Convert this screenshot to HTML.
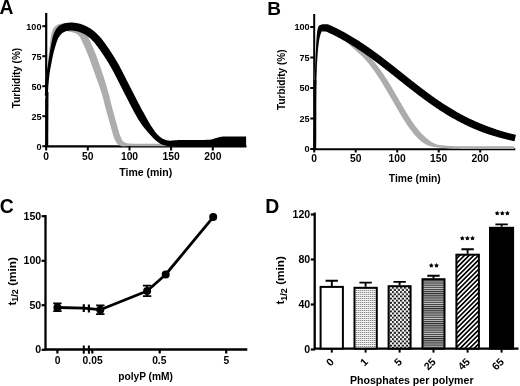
<!DOCTYPE html><html><head><meta charset="utf-8"><style>html,body{margin:0;padding:0;background:#fff;}svg{display:block;filter:blur(0.3px);}text{font-family:"Liberation Sans",sans-serif;font-weight:bold;fill:#000;}</style></head><body>
<svg width="520" height="386" viewBox="0 0 520 386">
<defs>
<pattern id="pDot1" width="2" height="2" patternUnits="userSpaceOnUse"><rect width="2" height="2" fill="#f4f4f4"/><rect x="0" y="0" width="1" height="1" fill="#8c8c8c"/><rect x="1" y="0" width="1" height="1" fill="#d0d0d0"/></pattern>
<pattern id="pDot5" width="4.04" height="4.28" patternUnits="userSpaceOnUse"><rect width="4.04" height="4.28" fill="#fff"/><circle cx="1" cy="1.07" r="1.08" fill="#000"/><circle cx="3.02" cy="3.21" r="1.08" fill="#000"/></pattern>
<pattern id="pH" width="4" height="2.14" patternUnits="userSpaceOnUse"><rect width="4" height="2.14" fill="#2a2a2a"/><rect y="1.07" width="4" height="1.07" fill="#c4c4c4"/></pattern>
<pattern id="pD" width="3.3" height="3.3" patternUnits="userSpaceOnUse" patternTransform="rotate(45)"><rect width="3.3" height="3.3" fill="#fff"/><rect width="1.65" height="3.3" fill="#000"/></pattern>
</defs>
<text x="-0.6" y="13.8" font-size="19.3">A</text>
<text x="267.2" y="14.9" font-size="19">B</text>
<text x="-0.2" y="212.6" font-size="19.4">C</text>
<text x="265.2" y="212.5" font-size="19.4">D</text>
<path d="M46.2,13 V147.5 M45.2,146.4 H246.5" stroke="#000" stroke-width="2.2" fill="none"/>
<path d="M47.32,98.24 L47.41,96.30 L47.49,94.39 L47.57,92.53 L47.66,90.74 L47.74,89.03 L47.82,87.41 L47.91,85.90 L47.99,84.51 L48.07,83.25 L48.16,82.05 L48.24,80.91 L48.32,79.82 L48.41,78.78 L48.49,77.78 L48.58,76.81 L48.66,75.88 L48.75,74.98 L48.84,74.10 L48.92,73.24 L49.01,72.40 L49.10,71.57 L49.18,70.74 L49.27,69.92 L49.36,69.09 L49.45,68.28 L49.54,67.47 L49.63,66.67 L49.72,65.89 L49.81,65.10 L49.90,64.33 L49.99,63.57 L50.08,62.81 L50.17,62.07 L50.26,61.33 L50.35,60.60 L50.45,59.88 L50.54,59.17 L50.63,58.46 L50.72,57.77 L50.82,57.08 L50.91,56.40 L51.00,55.73 L51.10,55.07 L51.19,54.41 L51.28,53.77 L51.38,53.13 L51.47,52.50 L51.57,51.88 L51.66,51.27 L51.76,50.66 L51.85,50.07 L51.95,49.48 L52.04,48.89 L52.14,48.30 L52.24,47.70 L52.34,47.11 L52.43,46.50 L52.53,45.90 L52.63,45.30 L52.72,44.70 L52.82,44.10 L52.92,43.51 L53.02,42.92 L53.12,42.34 L53.21,41.77 L53.31,41.21 L53.41,40.66 L53.51,40.12 L53.61,39.59 L53.71,39.08 L53.80,38.58 L53.90,38.11 L54.00,37.65 L54.10,37.21 L54.19,36.80 L54.29,36.40 L54.39,36.04 L54.48,35.70 L54.57,35.40 L54.66,35.13 L54.75,34.89 L54.83,34.69 L54.92,34.51 L55.02,34.31 L55.11,34.10 L55.21,33.91 L55.30,33.71 L55.40,33.53 L55.50,33.34 L55.59,33.17 L55.68,32.99 L55.78,32.83 L55.87,32.67 L55.96,32.51 L56.06,32.36 L56.15,32.21 L56.24,32.07 L56.33,31.94 L56.42,31.81 L56.51,31.69 L56.59,31.57 L56.68,31.46 L56.76,31.36 L56.84,31.27 L56.92,31.18 L57.00,31.10 L57.08,31.02 L57.15,30.96 L57.22,30.90 L57.28,30.84 L57.34,30.80 L57.40,30.76 L57.45,30.74 L57.50,30.72 L57.54,30.71 L57.57,30.70 L57.60,30.71 L57.61,30.72 L57.62,30.74 L57.62,30.76 L57.65,30.77 L57.73,30.75 L57.81,30.72 L57.90,30.70 L57.98,30.68 L58.06,30.66 L58.14,30.64 L58.22,30.61 L58.30,30.60 L58.37,30.58 L58.45,30.56 L58.53,30.54 L58.61,30.53 L58.68,30.51 L58.76,30.50 L58.83,30.48 L58.91,30.47 L58.98,30.46 L59.05,30.44 L59.12,30.43 L59.20,30.42 L59.27,30.41 L59.34,30.40 L59.40,30.40 L59.47,30.39 L59.54,30.38 L59.60,30.38 L59.67,30.37 L59.68,30.39 L60.04,30.36 L60.32,30.37 L60.58,30.39 L60.82,30.43 L61.02,30.48 L61.27,30.53 L61.60,30.59 L61.98,30.65 L62.36,30.71 L62.73,30.76 L63.12,30.81 L63.50,30.85 L63.89,30.89 L64.28,30.92 L64.68,30.95 L65.08,30.99 L65.48,31.02 L65.89,31.06 L66.30,31.10 L66.69,31.13 L67.03,31.17 L67.37,31.22 L67.72,31.27 L68.07,31.33 L68.43,31.40 L68.80,31.47 L69.17,31.55 L69.55,31.64 L69.94,31.73 L70.33,31.83 L70.73,31.93 L71.14,32.03 L71.55,32.14 L71.96,32.24 L72.37,32.35 L72.76,32.45 L73.15,32.56 L73.53,32.66 L73.89,32.77 L74.25,32.88 L74.60,33.00 L74.94,33.12 L75.28,33.24 L75.60,33.38 L75.92,33.52 L76.21,33.65 L76.46,33.78 L76.71,33.93 L76.97,34.11 L77.26,34.32 L77.56,34.57 L77.87,34.84 L78.19,35.15 L78.53,35.49 L78.87,35.85 L79.22,36.25 L79.53,36.61 L79.79,36.96 L80.08,37.43 L80.42,38.04 L80.79,38.75 L81.17,39.54 L81.57,40.39 L81.97,41.29 L82.39,42.22 L82.82,43.16 L83.24,44.07 L83.66,44.96 L84.06,45.84 L84.47,46.74 L84.88,47.66 L85.29,48.59 L85.69,49.54 L86.10,50.50 L86.51,51.48 L86.92,52.46 L87.34,53.47 L87.75,54.48 L88.15,55.50 L88.56,56.53 L88.97,57.59 L89.38,58.68 L89.79,59.78 L90.20,60.90 L90.62,62.04 L91.03,63.18 L91.45,64.33 L91.86,65.48 L92.27,66.63 L92.68,67.80 L93.10,68.98 L93.52,70.16 L93.94,71.36 L94.37,72.55 L94.80,73.74 L95.23,74.94 L95.67,76.13 L96.10,77.30 L96.54,78.47 L96.97,79.64 L97.41,80.81 L97.84,81.99 L98.27,83.20 L98.71,84.43 L99.14,85.68 L99.58,86.95 L100.02,88.23 L100.45,89.54 L100.88,90.86 L101.31,92.22 L101.74,93.61 L102.17,95.04 L102.59,96.54 L103.02,98.12 L103.44,99.77 L103.87,101.46 L104.30,103.17 L104.72,104.88 L105.15,106.56 L105.57,108.19 L106.00,109.76 L106.42,111.29 L106.84,112.81 L107.25,114.30 L107.67,115.78 L108.09,117.26 L108.50,118.73 L108.92,120.22 L109.33,121.72 L109.74,123.25 L110.16,124.80 L110.58,126.34 L111.00,127.86 L111.43,129.35 L111.85,130.79 L112.26,132.18 L112.68,133.59 L113.10,135.02 L113.54,136.41 L113.98,137.75 L114.46,139.00 L114.96,140.09 L115.45,141.02 L115.96,141.88 L116.49,142.70 L117.08,143.48 L117.74,144.21 L118.46,144.81 L119.10,145.22 L119.70,145.54 L120.31,145.82 L120.95,146.05 L121.60,146.22 L122.21,146.32 L122.73,146.36 L123.20,146.38 L123.68,146.39 L124.16,146.39 L124.63,146.39 L125.11,146.37 L125.58,146.36 L126.05,146.33 L126.52,146.30 L126.97,146.26 L127.40,146.22 L127.82,146.19 L128.24,146.16 L128.66,146.15 L129.08,146.15 L129.50,146.16 L129.92,146.17 L130.33,146.19 L130.75,146.20 L131.17,146.21 L131.59,146.22 L132.01,146.23 L132.43,146.24 L132.85,146.25 L133.27,146.26 L133.68,146.27 L134.10,146.27 L134.52,146.28 L134.94,146.28 L135.36,146.29 L135.78,146.29 L136.20,146.29 L136.62,146.30 L137.03,146.30 L137.45,146.30 L137.87,146.30 L138.29,146.30 L138.70,146.30 L139.12,146.30 L139.54,146.30 L139.95,146.30 L140.37,146.30 L140.79,146.30 L141.20,146.30 L141.62,146.30 L142.04,146.30 L142.45,146.30 L142.87,146.30 L143.29,146.30 L143.70,146.30 L144.12,146.30 L144.54,146.30 L144.95,146.30 L145.37,146.30 L145.79,146.30 L146.20,146.30 L146.62,146.30 L147.03,146.30 L147.45,146.30 L147.87,146.30 L148.28,146.30 L148.70,146.30 L149.12,146.30 L149.53,146.30 L149.95,146.30 L150.37,146.30 L150.78,146.30 L151.20,146.30 L151.62,146.30 L152.03,146.30 L152.45,146.30 L152.87,146.30 L153.28,146.30 L153.70,146.30 L154.12,146.30 L154.53,146.30 L154.95,146.30 L155.36,146.30 L155.78,146.30 L156.20,146.30 L156.61,146.30 L157.03,146.30 L157.45,146.30 L157.86,146.30 L158.28,146.30 L158.70,146.30 L159.11,146.30 L159.53,146.30 L159.95,146.30 L160.36,146.30 L160.78,146.30 L161.20,146.30 L161.61,146.30 L162.03,146.30 L162.45,146.30 L162.86,146.30 L163.28,146.30 L163.69,146.30 L164.11,146.30 L164.53,146.30 L164.94,146.30 L165.36,146.30 L165.78,146.30 L166.19,146.30 L166.61,146.30 L167.03,146.30 L167.44,146.30 L167.86,146.30 L168.28,146.30 L168.69,146.30 L169.11,146.30 L169.53,146.30 L169.94,146.30 L170.36,146.30 L170.78,146.30 L171.19,146.30 L171.61,146.30 L172.02,146.30 L172.44,146.30 L172.86,146.30 L173.27,146.30 L173.69,146.30 L174.11,146.30 L174.52,146.30 L174.94,146.30 L175.36,146.30 L175.77,146.30 L176.19,146.30 L176.61,146.30 L177.02,146.30 L177.44,146.30 L177.86,146.30 L178.27,146.30 L178.69,146.30 L179.11,146.30 L179.52,146.30 L179.94,146.30 L180.35,146.30 L180.77,146.30 L181.19,146.30 L181.60,146.30 L182.02,146.30 L182.44,146.30 L182.85,146.30 L183.27,146.30 L183.69,146.30 L184.10,146.30 L184.52,146.30 L184.94,146.30 L185.35,146.30 L185.77,146.30 L186.19,146.30 L186.60,146.30 L187.02,146.30 L187.44,146.30 L187.81,146.30 L187.81,143.70 L187.44,143.70 L187.02,143.70 L186.60,143.70 L186.19,143.70 L185.77,143.70 L185.35,143.70 L184.94,143.70 L184.52,143.70 L184.10,143.70 L183.69,143.70 L183.27,143.70 L182.85,143.70 L182.44,143.70 L182.02,143.70 L181.60,143.70 L181.19,143.70 L180.77,143.70 L180.35,143.70 L179.94,143.70 L179.52,143.70 L179.11,143.70 L178.69,143.70 L178.27,143.70 L177.86,143.70 L177.44,143.70 L177.02,143.70 L176.61,143.70 L176.19,143.70 L175.77,143.70 L175.36,143.70 L174.94,143.70 L174.52,143.70 L174.11,143.70 L173.69,143.70 L173.27,143.70 L172.86,143.70 L172.44,143.70 L172.02,143.70 L171.61,143.70 L171.19,143.70 L170.78,143.70 L170.36,143.70 L169.94,143.70 L169.53,143.70 L169.11,143.70 L168.69,143.70 L168.28,143.70 L167.86,143.70 L167.44,143.70 L167.03,143.70 L166.61,143.70 L166.19,143.70 L165.78,143.70 L165.36,143.70 L164.94,143.70 L164.53,143.70 L164.11,143.70 L163.69,143.70 L163.28,143.70 L162.86,143.70 L162.45,143.70 L162.03,143.70 L161.61,143.70 L161.20,143.70 L160.78,143.70 L160.36,143.70 L159.95,143.70 L159.53,143.70 L159.11,143.70 L158.70,143.70 L158.28,143.70 L157.86,143.70 L157.45,143.70 L157.03,143.70 L156.61,143.70 L156.20,143.70 L155.78,143.70 L155.36,143.70 L154.95,143.70 L154.53,143.70 L154.12,143.70 L153.70,143.70 L153.28,143.70 L152.87,143.70 L152.45,143.70 L152.03,143.70 L151.62,143.70 L151.20,143.70 L150.78,143.70 L150.37,143.70 L149.95,143.70 L149.53,143.70 L149.12,143.70 L148.70,143.70 L148.28,143.70 L147.87,143.70 L147.45,143.70 L147.03,143.70 L146.62,143.70 L146.20,143.70 L145.79,143.70 L145.37,143.70 L144.95,143.70 L144.54,143.70 L144.12,143.70 L143.70,143.70 L143.29,143.70 L142.87,143.70 L142.45,143.70 L142.04,143.70 L141.62,143.70 L141.20,143.70 L140.79,143.70 L140.37,143.70 L139.95,143.70 L139.54,143.70 L139.12,143.70 L138.70,143.70 L138.29,143.70 L137.87,143.70 L137.46,143.70 L137.04,143.70 L136.63,143.70 L136.21,143.69 L135.80,143.69 L135.39,143.69 L134.97,143.68 L134.56,143.68 L134.14,143.67 L133.73,143.67 L133.31,143.66 L132.90,143.65 L132.49,143.64 L132.07,143.63 L131.66,143.62 L131.24,143.61 L130.83,143.60 L130.41,143.59 L130.00,143.57 L129.59,143.56 L129.17,143.54 L128.76,143.51 L128.34,143.46 L127.93,143.41 L127.52,143.34 L127.12,143.27 L126.74,143.18 L126.37,143.08 L126.01,142.96 L125.65,142.82 L125.29,142.67 L124.93,142.51 L124.57,142.34 L124.22,142.16 L123.86,141.97 L123.55,141.79 L123.32,141.61 L123.14,141.43 L122.94,141.22 L122.73,140.99 L122.49,140.71 L122.30,140.46 L122.18,140.25 L122.01,139.93 L121.77,139.44 L121.47,138.83 L121.14,138.11 L120.80,137.36 L120.47,136.57 L120.11,135.59 L119.72,134.42 L119.32,133.13 L118.91,131.75 L118.50,130.33 L118.08,128.94 L117.67,127.55 L117.26,126.11 L116.85,124.62 L116.43,123.09 L116.02,121.56 L115.60,120.01 L115.18,118.48 L114.76,116.98 L114.34,115.49 L113.93,114.02 L113.51,112.54 L113.10,111.06 L112.68,109.57 L112.27,108.06 L111.86,106.53 L111.45,104.95 L111.04,103.31 L110.64,101.62 L110.23,99.91 L109.82,98.19 L109.42,96.50 L109.01,94.84 L108.60,93.26 L108.19,91.75 L107.79,90.30 L107.39,88.88 L106.99,87.50 L106.59,86.15 L106.19,84.83 L105.80,83.52 L105.40,82.23 L105.00,80.94 L104.60,79.68 L104.20,78.45 L103.80,77.24 L103.40,76.05 L103.00,74.86 L102.61,73.68 L102.21,72.50 L101.81,71.30 L101.41,70.10 L101.00,68.90 L100.59,67.70 L100.18,66.50 L99.76,65.31 L99.34,64.12 L98.92,62.94 L98.50,61.78 L98.08,60.63 L97.66,59.47 L97.24,58.32 L96.82,57.18 L96.40,56.05 L95.98,54.92 L95.55,53.82 L95.13,52.73 L94.70,51.67 L94.28,50.63 L93.86,49.60 L93.43,48.58 L93.01,47.58 L92.59,46.58 L92.16,45.60 L91.74,44.63 L91.31,43.68 L90.89,42.73 L90.46,41.81 L90.04,40.90 L89.63,40.03 L89.23,39.13 L88.81,38.21 L88.38,37.27 L87.95,36.33 L87.50,35.40 L87.03,34.49 L86.54,33.61 L86.00,32.75 L85.43,31.97 L84.90,31.34 L84.42,30.80 L83.93,30.28 L83.43,29.78 L82.92,29.30 L82.40,28.84 L81.87,28.41 L81.32,28.00 L80.75,27.62 L80.16,27.26 L79.58,26.95 L79.03,26.69 L78.52,26.47 L78.02,26.26 L77.52,26.07 L77.03,25.90 L76.54,25.74 L76.07,25.59 L75.60,25.45 L75.14,25.33 L74.70,25.20 L74.26,25.09 L73.83,24.98 L73.41,24.87 L72.99,24.76 L72.57,24.65 L72.13,24.55 L71.69,24.44 L71.25,24.33 L70.79,24.23 L70.33,24.13 L69.87,24.04 L69.39,23.95 L68.91,23.87 L68.43,23.79 L67.93,23.73 L67.45,23.67 L67.00,23.63 L66.58,23.59 L66.15,23.55 L65.72,23.52 L65.29,23.48 L64.85,23.44 L64.41,23.42 L63.97,23.40 L63.52,23.39 L63.07,23.40 L62.61,23.42 L62.16,23.45 L61.70,23.49 L61.20,23.55 L60.61,23.63 L59.99,23.75 L59.39,23.92 L58.81,24.12 L58.27,24.35 L57.79,24.59 L57.64,24.67 L57.54,24.72 L57.43,24.78 L57.34,24.84 L57.24,24.89 L57.14,24.95 L57.04,25.01 L56.95,25.07 L56.85,25.13 L56.75,25.19 L56.66,25.25 L56.57,25.32 L56.47,25.38 L56.38,25.44 L56.29,25.51 L56.20,25.57 L56.11,25.64 L56.02,25.70 L55.93,25.77 L55.85,25.84 L55.76,25.90 L55.67,25.97 L55.58,26.04 L55.50,26.11 L55.41,26.17 L55.33,26.24 L55.24,26.31 L55.15,26.39 L55.02,26.49 L54.86,26.61 L54.70,26.75 L54.55,26.89 L54.40,27.03 L54.27,27.18 L54.14,27.33 L54.02,27.48 L53.91,27.63 L53.80,27.79 L53.69,27.95 L53.59,28.11 L53.50,28.27 L53.40,28.43 L53.31,28.60 L53.22,28.77 L53.13,28.94 L53.05,29.12 L52.97,29.29 L52.88,29.47 L52.80,29.66 L52.73,29.84 L52.65,30.03 L52.57,30.23 L52.49,30.42 L52.42,30.62 L52.35,30.82 L52.27,31.03 L52.20,31.24 L52.13,31.45 L52.05,31.66 L51.98,31.88 L51.91,32.10 L51.84,32.33 L51.77,32.56 L51.70,32.79 L51.63,33.02 L51.56,33.27 L51.48,33.54 L51.39,33.86 L51.31,34.19 L51.24,34.55 L51.16,34.92 L51.09,35.31 L51.02,35.72 L50.95,36.16 L50.88,36.61 L50.81,37.07 L50.74,37.56 L50.68,38.06 L50.61,38.58 L50.54,39.11 L50.47,39.65 L50.40,40.20 L50.33,40.77 L50.26,41.34 L50.20,41.92 L50.13,42.51 L50.06,43.11 L49.99,43.71 L49.92,44.31 L49.85,44.92 L49.78,45.52 L49.71,46.13 L49.64,46.73 L49.57,47.33 L49.50,47.93 L49.43,48.52 L49.36,49.11 L49.29,49.71 L49.22,50.31 L49.15,50.93 L49.08,51.55 L49.01,52.18 L48.94,52.81 L48.86,53.46 L48.79,54.11 L48.72,54.77 L48.65,55.44 L48.57,56.11 L48.50,56.80 L48.42,57.49 L48.35,58.19 L48.28,58.90 L48.20,59.62 L48.13,60.35 L48.05,61.08 L47.98,61.82 L47.90,62.57 L47.83,63.33 L47.75,64.10 L47.67,64.88 L47.60,65.66 L47.52,66.45 L47.44,67.25 L47.36,68.06 L47.29,68.88 L47.21,69.71 L47.13,70.53 L47.05,71.36 L46.97,72.20 L46.89,73.04 L46.81,73.91 L46.73,74.79 L46.65,75.70 L46.57,76.64 L46.49,77.61 L46.41,78.62 L46.33,79.67 L46.24,80.76 L46.16,81.91 L46.08,83.11 L45.99,84.38 L45.91,85.78 L45.83,87.30 L45.74,88.93 L45.66,90.64 L45.58,92.44 L45.49,94.30 L45.41,96.21 L45.33,98.16 Z" fill="#adadad"/>
<path d="M47.82,95.88 L47.91,94.22 L47.99,92.62 L48.07,91.08 L48.16,89.59 L48.24,88.18 L48.32,86.85 L48.40,85.61 L48.49,84.45 L48.57,83.40 L48.65,82.40 L48.74,81.45 L48.82,80.54 L48.90,79.68 L48.98,78.86 L49.07,78.08 L49.15,77.33 L49.23,76.61 L49.31,75.92 L49.40,75.25 L49.48,74.61 L49.56,73.98 L49.65,73.37 L49.73,72.78 L49.82,72.21 L49.90,71.65 L49.99,71.10 L50.07,70.57 L50.16,70.05 L50.25,69.53 L50.33,69.03 L50.42,68.53 L50.51,68.03 L50.60,67.55 L50.69,67.06 L50.78,66.57 L50.87,66.09 L50.96,65.60 L51.05,65.11 L51.14,64.62 L51.23,64.13 L51.33,63.64 L51.42,63.15 L51.51,62.66 L51.60,62.18 L51.70,61.69 L51.79,61.21 L51.88,60.73 L51.98,60.25 L52.07,59.77 L52.17,59.30 L52.26,58.83 L52.36,58.36 L52.45,57.90 L52.55,57.44 L52.64,56.98 L52.74,56.53 L52.84,56.08 L52.93,55.63 L53.03,55.19 L53.13,54.76 L53.23,54.33 L53.32,53.90 L53.42,53.48 L53.52,53.07 L53.62,52.66 L53.71,52.26 L53.81,51.86 L53.91,51.48 L54.01,51.09 L54.11,50.72 L54.21,50.35 L54.30,49.99 L54.40,49.64 L54.50,49.29 L54.60,48.94 L54.70,48.59 L54.80,48.23 L54.90,47.88 L55.01,47.53 L55.11,47.19 L55.21,46.84 L55.31,46.49 L55.41,46.15 L55.51,45.81 L55.61,45.47 L55.72,45.13 L55.82,44.80 L55.92,44.47 L56.02,44.14 L56.12,43.82 L56.22,43.50 L56.32,43.18 L56.42,42.87 L56.53,42.56 L56.63,42.26 L56.73,41.96 L56.83,41.67 L56.93,41.38 L57.03,41.09 L57.13,40.82 L57.23,40.55 L57.33,40.28 L57.43,40.02 L57.53,39.77 L57.62,39.53 L57.72,39.29 L57.82,39.06 L57.91,38.84 L58.01,38.63 L58.10,38.43 L58.20,38.24 L58.29,38.05 L58.38,37.88 L58.47,37.72 L58.55,37.57 L58.64,37.43 L58.72,37.30 L58.80,37.19 L58.88,37.07 L58.97,36.93 L59.07,36.79 L59.17,36.65 L59.26,36.52 L59.35,36.39 L59.45,36.26 L59.54,36.13 L59.64,36.00 L59.73,35.88 L59.82,35.75 L59.91,35.63 L60.00,35.52 L60.10,35.40 L60.19,35.29 L60.28,35.17 L60.37,35.06 L60.46,34.96 L60.54,34.85 L60.63,34.75 L60.72,34.65 L60.81,34.55 L60.89,34.45 L60.98,34.36 L61.06,34.27 L61.15,34.18 L61.23,34.09 L61.31,34.01 L61.39,33.92 L61.47,33.84 L61.52,33.81 L61.94,33.41 L62.30,33.11 L62.62,32.87 L62.91,32.69 L63.15,32.55 L63.41,32.43 L63.73,32.27 L64.09,32.09 L64.42,31.91 L64.75,31.74 L65.05,31.59 L65.35,31.45 L65.63,31.33 L65.90,31.23 L66.16,31.15 L66.40,31.08 L66.62,31.03 L66.89,30.98 L67.25,30.92 L67.64,30.87 L68.02,30.81 L68.40,30.76 L68.78,30.72 L69.14,30.68 L69.50,30.64 L69.86,30.61 L70.21,30.59 L70.55,30.57 L70.89,30.56 L71.22,30.56 L71.55,30.56 L71.88,30.58 L72.22,30.60 L72.56,30.62 L72.91,30.65 L73.27,30.69 L73.63,30.74 L74.00,30.79 L74.37,30.85 L74.75,30.91 L75.14,30.97 L75.53,31.04 L75.93,31.11 L76.34,31.19 L76.75,31.26 L77.13,31.33 L77.45,31.40 L77.77,31.47 L78.09,31.56 L78.42,31.65 L78.75,31.76 L79.10,31.87 L79.45,32.00 L79.81,32.13 L80.17,32.27 L80.54,32.42 L80.92,32.58 L81.30,32.74 L81.69,32.91 L82.09,33.09 L82.49,33.27 L82.87,33.45 L83.23,33.61 L83.58,33.79 L83.93,33.97 L84.28,34.16 L84.64,34.37 L85.00,34.58 L85.37,34.80 L85.74,35.04 L86.11,35.28 L86.48,35.53 L86.86,35.79 L87.24,36.05 L87.62,36.33 L88.00,36.61 L88.39,36.90 L88.77,37.19 L89.12,37.47 L89.48,37.77 L89.84,38.08 L90.21,38.40 L90.58,38.74 L90.95,39.10 L91.33,39.47 L91.71,39.85 L92.10,40.24 L92.49,40.65 L92.88,41.06 L93.28,41.49 L93.67,41.92 L94.07,42.37 L94.47,42.82 L94.87,43.27 L95.25,43.71 L95.62,44.17 L96.01,44.64 L96.39,45.14 L96.79,45.65 L97.18,46.17 L97.58,46.71 L97.98,47.26 L98.38,47.82 L98.79,48.39 L99.20,48.97 L99.61,49.56 L100.02,50.15 L100.43,50.75 L100.85,51.35 L101.27,51.94 L101.68,52.53 L102.09,53.13 L102.49,53.73 L102.90,54.33 L103.31,54.93 L103.72,55.55 L104.13,56.16 L104.54,56.79 L104.94,57.41 L105.35,58.05 L105.76,58.68 L106.17,59.33 L106.58,59.97 L106.99,60.63 L107.39,61.29 L107.80,61.95 L108.21,62.62 L108.62,63.30 L109.02,63.98 L109.43,64.68 L109.84,65.38 L110.25,66.08 L110.66,66.80 L111.07,67.52 L111.47,68.25 L111.89,68.98 L112.30,69.72 L112.71,70.47 L113.12,71.22 L113.53,71.98 L113.93,72.73 L114.34,73.50 L114.75,74.28 L115.16,75.07 L115.57,75.88 L115.98,76.69 L116.39,77.50 L116.81,78.33 L117.22,79.16 L117.64,79.99 L118.06,80.82 L118.47,81.65 L118.90,82.48 L119.32,83.30 L119.73,84.12 L120.15,84.93 L120.57,85.75 L120.98,86.56 L121.40,87.37 L121.82,88.19 L122.23,89.00 L122.65,89.82 L123.06,90.63 L123.48,91.45 L123.90,92.26 L124.31,93.07 L124.73,93.89 L125.15,94.70 L125.56,95.51 L125.98,96.33 L126.39,97.15 L126.81,97.97 L127.22,98.79 L127.64,99.61 L128.06,100.43 L128.48,101.25 L128.90,102.08 L129.31,102.90 L129.74,103.71 L130.16,104.53 L130.58,105.34 L131.00,106.14 L131.42,106.93 L131.83,107.73 L132.25,108.52 L132.67,109.31 L133.09,110.11 L133.51,110.90 L133.93,111.68 L134.35,112.47 L134.77,113.25 L135.20,114.02 L135.62,114.79 L136.05,115.56 L136.48,116.31 L136.91,117.06 L137.34,117.78 L137.77,118.50 L138.21,119.22 L138.65,119.93 L139.10,120.64 L139.55,121.34 L140.00,122.04 L140.46,122.73 L140.92,123.41 L141.38,124.08 L141.84,124.74 L142.31,125.39 L142.79,126.03 L143.26,126.66 L143.74,127.27 L144.21,127.87 L144.68,128.45 L145.15,129.01 L145.62,129.56 L146.09,130.10 L146.55,130.63 L147.01,131.16 L147.46,131.67 L147.91,132.19 L148.36,132.70 L148.80,133.21 L149.26,133.74 L149.71,134.27 L150.17,134.80 L150.63,135.33 L151.09,135.85 L151.56,136.36 L152.03,136.87 L152.50,137.35 L152.96,137.80 L153.40,138.25 L153.85,138.68 L154.30,139.11 L154.74,139.53 L155.20,139.95 L155.65,140.35 L156.11,140.74 L156.58,141.11 L157.03,141.46 L157.47,141.79 L157.90,142.11 L158.34,142.43 L158.80,142.75 L159.27,143.07 L159.75,143.38 L160.25,143.68 L160.76,143.96 L161.30,144.22 L161.83,144.45 L162.31,144.63 L162.77,144.80 L163.24,144.96 L163.71,145.11 L164.18,145.25 L164.65,145.39 L165.13,145.51 L165.61,145.62 L166.10,145.72 L166.56,145.80 L166.99,145.87 L167.42,145.95 L167.85,146.03 L168.29,146.11 L168.75,146.20 L169.21,146.27 L169.69,146.35 L170.18,146.41 L170.69,146.47 L171.17,146.51 L171.61,146.54 L172.02,146.58 L172.44,146.61 L172.86,146.65 L173.27,146.69 L173.69,146.73 L174.11,146.76 L174.52,146.80 L174.94,146.83 L175.36,146.87 L175.77,146.90 L176.19,146.93 L176.61,146.96 L177.02,146.98 L177.44,147.01 L177.86,147.03 L178.27,147.04 L178.69,147.05 L179.11,147.06 L179.52,147.06 L179.94,147.06 L180.36,147.06 L180.77,147.06 L181.19,147.06 L181.61,147.06 L182.02,147.06 L182.44,147.06 L182.86,147.06 L183.28,147.06 L183.69,147.06 L184.11,147.06 L184.53,147.05 L184.94,147.05 L185.36,147.05 L185.78,147.05 L186.20,147.05 L186.61,147.05 L187.03,147.05 L187.45,147.05 L187.87,147.04 L188.28,147.04 L188.70,147.04 L189.12,147.04 L189.53,147.04 L189.95,147.03 L190.37,147.03 L190.79,147.03 L191.20,147.03 L191.62,147.02 L192.04,147.02 L192.46,147.02 L192.87,147.02 L193.29,147.01 L193.71,147.01 L194.13,147.01 L194.54,147.00 L194.96,147.00 L195.38,147.00 L195.80,146.99 L196.21,146.99 L196.63,146.99 L197.05,146.98 L197.47,146.98 L197.88,146.97 L198.30,146.97 L198.72,146.97 L199.14,146.96 L199.55,146.96 L199.97,146.95 L200.39,146.95 L200.81,146.94 L201.22,146.94 L201.64,146.93 L202.06,146.93 L202.48,146.92 L202.89,146.91 L203.31,146.91 L203.73,146.90 L204.15,146.90 L204.56,146.89 L204.98,146.88 L205.40,146.88 L205.82,146.87 L206.24,146.86 L206.65,146.86 L207.07,146.85 L207.49,146.84 L207.91,146.83 L208.32,146.83 L208.77,146.82 L209.27,146.80 L209.77,146.77 L210.27,146.72 L210.76,146.67 L211.23,146.61 L211.70,146.54 L212.16,146.48 L212.62,146.42 L213.06,146.36 L213.50,146.32 L213.93,146.28 L214.36,146.25 L214.78,146.23 L215.19,146.22 L215.58,146.22 L215.97,146.23 L216.35,146.25 L216.71,146.27 L217.07,146.31 L217.43,146.35 L217.85,146.39 L218.28,146.43 L218.70,146.47 L219.13,146.50 L219.55,146.53 L219.96,146.56 L220.37,146.58 L220.78,146.60 L221.18,146.61 L221.58,146.62 L221.97,146.62 L222.36,146.62 L222.75,146.61 L223.13,146.59 L223.50,146.57 L223.88,146.55 L224.25,146.54 L224.61,146.53 L224.97,146.52 L225.35,146.52 L225.75,146.52 L226.17,146.52 L226.59,146.52 L227.00,146.52 L227.42,146.52 L227.84,146.52 L228.25,146.52 L228.67,146.52 L229.09,146.52 L229.50,146.52 L229.92,146.52 L230.33,146.52 L230.75,146.52 L231.17,146.52 L231.58,146.52 L232.00,146.52 L232.42,146.52 L232.83,146.52 L233.25,146.52 L233.67,146.52 L234.08,146.52 L234.50,146.52 L234.92,146.52 L235.33,146.52 L235.75,146.52 L236.17,146.52 L236.58,146.52 L237.00,146.52 L237.42,146.52 L237.83,146.52 L238.25,146.52 L238.66,146.52 L239.08,146.52 L239.50,146.52 L239.91,146.52 L240.33,146.52 L240.75,146.52 L241.16,146.52 L241.58,146.52 L242.00,146.52 L242.41,146.52 L242.83,146.52 L243.25,146.52 L243.66,146.52 L244.08,146.52 L244.50,146.52 L244.91,146.52 L245.33,146.52 L245.75,146.52 L246.12,146.52 L246.12,136.52 L245.75,136.52 L245.33,136.52 L244.91,136.52 L244.50,136.52 L244.08,136.52 L243.66,136.52 L243.25,136.52 L242.83,136.52 L242.41,136.52 L242.00,136.52 L241.58,136.52 L241.16,136.52 L240.75,136.52 L240.33,136.52 L239.91,136.52 L239.50,136.52 L239.08,136.52 L238.66,136.52 L238.25,136.52 L237.83,136.52 L237.42,136.52 L237.00,136.52 L236.58,136.52 L236.17,136.52 L235.75,136.52 L235.33,136.52 L234.92,136.52 L234.50,136.52 L234.08,136.52 L233.67,136.52 L233.25,136.52 L232.83,136.52 L232.42,136.52 L232.00,136.52 L231.58,136.52 L231.17,136.52 L230.75,136.52 L230.33,136.52 L229.92,136.52 L229.50,136.52 L229.09,136.52 L228.67,136.52 L228.25,136.52 L227.84,136.52 L227.42,136.52 L227.00,136.52 L226.59,136.52 L226.17,136.52 L225.75,136.52 L225.32,136.52 L224.87,136.52 L224.40,136.53 L223.93,136.54 L223.46,136.56 L223.00,136.58 L222.55,136.61 L222.09,136.64 L221.65,136.68 L221.20,136.74 L220.76,136.81 L220.33,136.89 L219.90,136.98 L219.47,137.08 L219.05,137.18 L218.63,137.29 L218.22,137.40 L217.81,137.52 L217.40,137.64 L217.00,137.76 L216.58,137.88 L216.11,138.01 L215.63,138.15 L215.17,138.29 L214.71,138.44 L214.26,138.59 L213.83,138.74 L213.41,138.88 L212.99,139.02 L212.58,139.15 L212.18,139.27 L211.79,139.38 L211.40,139.47 L211.02,139.56 L210.65,139.62 L210.28,139.67 L209.93,139.72 L209.58,139.76 L209.25,139.79 L208.92,139.81 L208.58,139.82 L208.20,139.83 L207.78,139.84 L207.37,139.84 L206.95,139.85 L206.53,139.86 L206.12,139.86 L205.70,139.87 L205.29,139.88 L204.87,139.88 L204.46,139.89 L204.04,139.90 L203.63,139.90 L203.21,139.91 L202.80,139.91 L202.38,139.92 L201.97,139.93 L201.55,139.93 L201.14,139.94 L200.72,139.94 L200.30,139.95 L199.89,139.95 L199.47,139.96 L199.06,139.96 L198.64,139.97 L198.23,139.97 L197.81,139.97 L197.40,139.98 L196.98,139.98 L196.57,139.99 L196.15,139.99 L195.73,139.99 L195.32,140.00 L194.90,140.00 L194.49,140.00 L194.07,140.01 L193.66,140.01 L193.24,140.01 L192.83,140.02 L192.41,140.02 L191.99,140.02 L191.58,140.03 L191.16,140.03 L190.75,140.03 L190.33,140.03 L189.92,140.03 L189.50,140.04 L189.08,140.04 L188.67,140.04 L188.25,140.04 L187.84,140.04 L187.42,140.05 L187.01,140.05 L186.59,140.05 L186.17,140.05 L185.76,140.05 L185.34,140.05 L184.93,140.05 L184.51,140.05 L184.10,140.06 L183.68,140.06 L183.26,140.06 L182.85,140.06 L182.43,140.06 L182.02,140.06 L181.60,140.06 L181.19,140.06 L180.77,140.06 L180.35,140.06 L179.94,140.06 L179.52,140.06 L179.11,140.06 L178.69,140.07 L178.27,140.08 L177.86,140.09 L177.44,140.11 L177.02,140.14 L176.61,140.16 L176.19,140.19 L175.77,140.22 L175.36,140.25 L174.94,140.29 L174.52,140.32 L174.11,140.36 L173.69,140.39 L173.27,140.43 L172.86,140.47 L172.44,140.51 L172.02,140.54 L171.61,140.58 L171.21,140.61 L170.86,140.64 L170.53,140.66 L170.19,140.66 L169.84,140.65 L169.47,140.63 L169.09,140.59 L168.70,140.55 L168.30,140.50 L167.89,140.44 L167.49,140.38 L167.12,140.31 L166.77,140.24 L166.42,140.16 L166.07,140.07 L165.71,139.97 L165.35,139.86 L164.98,139.74 L164.61,139.62 L164.24,139.48 L163.89,139.35 L163.59,139.22 L163.29,139.07 L162.98,138.90 L162.64,138.70 L162.29,138.48 L161.93,138.23 L161.55,137.96 L161.16,137.68 L160.76,137.38 L160.36,137.08 L159.98,136.79 L159.61,136.49 L159.24,136.18 L158.87,135.85 L158.48,135.50 L158.10,135.14 L157.71,134.76 L157.32,134.36 L156.94,133.95 L156.56,133.54 L156.20,133.12 L155.84,132.68 L155.47,132.21 L155.10,131.71 L154.73,131.19 L154.36,130.66 L153.98,130.11 L153.59,129.55 L153.21,128.98 L152.82,128.40 L152.44,127.84 L152.06,127.27 L151.68,126.71 L151.31,126.15 L150.95,125.58 L150.58,125.01 L150.22,124.44 L149.86,123.86 L149.50,123.27 L149.14,122.67 L148.79,122.05 L148.42,121.42 L148.06,120.78 L147.69,120.12 L147.32,119.45 L146.95,118.77 L146.57,118.09 L146.19,117.39 L145.81,116.68 L145.42,115.97 L145.03,115.26 L144.64,114.54 L144.24,113.81 L143.83,113.09 L143.43,112.37 L143.03,111.65 L142.62,110.92 L142.21,110.18 L141.80,109.43 L141.39,108.67 L140.98,107.90 L140.57,107.13 L140.16,106.36 L139.74,105.57 L139.33,104.79 L138.91,104.00 L138.50,103.21 L138.08,102.42 L137.67,101.63 L137.26,100.84 L136.85,100.05 L136.43,99.24 L136.02,98.44 L135.60,97.62 L135.19,96.81 L134.77,95.99 L134.36,95.17 L133.94,94.35 L133.53,93.53 L133.11,92.70 L132.69,91.88 L132.27,91.06 L131.85,90.25 L131.44,89.43 L131.02,88.62 L130.60,87.80 L130.19,86.99 L129.77,86.17 L129.35,85.36 L128.94,84.55 L128.52,83.73 L128.10,82.92 L127.69,82.10 L127.27,81.29 L126.86,80.47 L126.44,79.66 L126.03,78.85 L125.61,78.04 L125.20,77.22 L124.79,76.39 L124.37,75.56 L123.95,74.73 L123.53,73.90 L123.11,73.07 L122.69,72.24 L122.27,71.42 L121.85,70.60 L121.42,69.78 L120.99,68.97 L120.57,68.18 L120.14,67.40 L119.72,66.62 L119.30,65.86 L118.88,65.09 L118.45,64.34 L118.03,63.59 L117.61,62.84 L117.18,62.10 L116.76,61.36 L116.33,60.63 L115.91,59.91 L115.48,59.19 L115.06,58.49 L114.63,57.78 L114.20,57.09 L113.78,56.40 L113.36,55.72 L112.93,55.05 L112.51,54.38 L112.08,53.72 L111.66,53.06 L111.23,52.41 L110.81,51.76 L110.38,51.12 L109.96,50.48 L109.53,49.85 L109.11,49.22 L108.68,48.60 L108.26,47.99 L107.84,47.38 L107.42,46.78 L107.00,46.18 L106.58,45.58 L106.16,44.97 L105.74,44.37 L105.32,43.77 L104.89,43.17 L104.46,42.57 L104.03,41.98 L103.59,41.39 L103.15,40.80 L102.71,40.23 L102.27,39.66 L101.82,39.10 L101.36,38.56 L100.91,38.03 L100.47,37.53 L100.04,37.04 L99.60,36.56 L99.17,36.08 L98.73,35.60 L98.29,35.14 L97.84,34.67 L97.40,34.22 L96.95,33.77 L96.49,33.33 L96.03,32.89 L95.57,32.47 L95.11,32.05 L94.63,31.65 L94.16,31.25 L93.68,30.88 L93.22,30.53 L92.78,30.19 L92.33,29.86 L91.88,29.54 L91.42,29.22 L90.97,28.90 L90.51,28.60 L90.05,28.30 L89.58,28.00 L89.12,27.72 L88.64,27.44 L88.17,27.17 L87.69,26.91 L87.21,26.66 L86.72,26.42 L86.25,26.19 L85.80,25.99 L85.37,25.79 L84.93,25.60 L84.48,25.40 L84.03,25.21 L83.58,25.02 L83.12,24.83 L82.65,24.65 L82.17,24.47 L81.69,24.30 L81.20,24.14 L80.71,23.99 L80.20,23.84 L79.69,23.71 L79.17,23.59 L78.66,23.48 L78.21,23.40 L77.79,23.32 L77.36,23.24 L76.93,23.16 L76.49,23.09 L76.04,23.01 L75.59,22.94 L75.13,22.87 L74.67,22.81 L74.20,22.75 L73.72,22.70 L73.24,22.65 L72.75,22.61 L72.25,22.59 L71.75,22.57 L71.24,22.56 L70.74,22.56 L70.24,22.58 L69.75,22.60 L69.27,22.63 L68.79,22.67 L68.32,22.72 L67.86,22.77 L67.40,22.83 L66.94,22.89 L66.49,22.95 L66.05,23.01 L65.58,23.09 L65.01,23.19 L64.40,23.33 L63.81,23.50 L63.23,23.69 L62.67,23.90 L62.12,24.13 L61.58,24.38 L61.06,24.65 L60.55,24.93 L60.05,25.23 L59.57,25.55 L59.06,25.91 L58.48,26.37 L57.90,26.92 L57.35,27.51 L56.84,28.13 L56.37,28.79 L55.96,29.44 L55.83,29.63 L55.75,29.77 L55.66,29.92 L55.58,30.07 L55.50,30.21 L55.41,30.36 L55.33,30.51 L55.25,30.67 L55.17,30.82 L55.09,30.98 L55.01,31.13 L54.93,31.29 L54.85,31.45 L54.77,31.61 L54.70,31.77 L54.62,31.94 L54.55,32.10 L54.47,32.27 L54.40,32.43 L54.32,32.60 L54.25,32.77 L54.17,32.94 L54.10,33.12 L54.03,33.29 L53.95,33.47 L53.88,33.64 L53.81,33.82 L53.74,34.00 L53.67,34.18 L53.59,34.37 L53.51,34.58 L53.42,34.81 L53.34,35.04 L53.26,35.28 L53.18,35.52 L53.10,35.77 L53.02,36.02 L52.95,36.28 L52.87,36.54 L52.80,36.80 L52.73,37.08 L52.66,37.35 L52.59,37.63 L52.52,37.91 L52.45,38.20 L52.38,38.50 L52.31,38.79 L52.25,39.10 L52.18,39.40 L52.11,39.71 L52.05,40.03 L51.98,40.34 L51.92,40.67 L51.85,40.99 L51.78,41.32 L51.72,41.65 L51.65,41.99 L51.59,42.32 L51.52,42.67 L51.46,43.01 L51.39,43.35 L51.33,43.70 L51.26,44.05 L51.20,44.40 L51.13,44.76 L51.07,45.11 L51.00,45.47 L50.94,45.83 L50.87,46.19 L50.81,46.55 L50.74,46.91 L50.67,47.27 L50.61,47.63 L50.54,47.99 L50.48,48.35 L50.41,48.72 L50.34,49.09 L50.27,49.48 L50.21,49.87 L50.14,50.26 L50.07,50.66 L50.00,51.07 L49.93,51.49 L49.86,51.90 L49.79,52.33 L49.73,52.76 L49.66,53.19 L49.59,53.63 L49.52,54.07 L49.45,54.52 L49.38,54.97 L49.31,55.43 L49.24,55.89 L49.17,56.35 L49.10,56.82 L49.03,57.29 L48.96,57.76 L48.88,58.23 L48.81,58.71 L48.74,59.19 L48.67,59.68 L48.60,60.16 L48.52,60.65 L48.45,61.14 L48.38,61.63 L48.30,62.12 L48.23,62.61 L48.16,63.10 L48.08,63.59 L48.01,64.09 L47.93,64.58 L47.86,65.07 L47.78,65.56 L47.70,66.05 L47.63,66.54 L47.55,67.03 L47.47,67.52 L47.39,68.02 L47.31,68.53 L47.24,69.05 L47.16,69.57 L47.08,70.10 L47.00,70.65 L46.91,71.20 L46.83,71.77 L46.75,72.36 L46.67,72.96 L46.59,73.58 L46.50,74.22 L46.42,74.88 L46.34,75.56 L46.25,76.26 L46.17,77.00 L46.08,77.76 L46.00,78.55 L45.92,79.39 L45.83,80.26 L45.75,81.18 L45.66,82.14 L45.58,83.16 L45.50,84.23 L45.41,85.40 L45.33,86.66 L45.24,88.00 L45.16,89.42 L45.08,90.91 L44.99,92.46 L44.91,94.07 L44.83,95.72 Z" fill="#000"/>
<path d="M46.9,147 L47.2,92" stroke="#000" stroke-width="2.6"/>
<path d="M42.3,146.2 H46" stroke="#000" stroke-width="2"/>
<text x="41.5" y="149.5" font-size="9.1" text-anchor="end">0</text>
<path d="M42.3,116.2 H46" stroke="#000" stroke-width="2"/>
<text x="41.5" y="119.5" font-size="9.1" text-anchor="end">25</text>
<path d="M42.3,86.2 H46" stroke="#000" stroke-width="2"/>
<text x="41.5" y="89.5" font-size="9.1" text-anchor="end">50</text>
<path d="M42.3,56.2 H46" stroke="#000" stroke-width="2"/>
<text x="41.5" y="59.5" font-size="9.1" text-anchor="end">75</text>
<path d="M42.3,26.2 H46" stroke="#000" stroke-width="2"/>
<text x="41.5" y="29.5" font-size="9.1" text-anchor="end">100</text>
<path d="M46.2,146 V150.5" stroke="#000" stroke-width="2"/>
<text x="46.2" y="160.2" font-size="10.3" text-anchor="middle">0</text>
<path d="M87.8,146 V150.5" stroke="#000" stroke-width="2"/>
<text x="87.8" y="160.2" font-size="10.3" text-anchor="middle">50</text>
<path d="M129.5,146 V150.5" stroke="#000" stroke-width="2"/>
<text x="129.5" y="160.2" font-size="10.3" text-anchor="middle">100</text>
<path d="M171.1,146 V150.5" stroke="#000" stroke-width="2"/>
<text x="171.1" y="160.2" font-size="10.3" text-anchor="middle">150</text>
<path d="M212.8,146 V150.5" stroke="#000" stroke-width="2"/>
<text x="212.8" y="160.2" font-size="10.3" text-anchor="middle">200</text>
<text x="145.7" y="175.6" font-size="10.5" text-anchor="middle">Time (min)</text>
<text transform="translate(19.6,78) rotate(-90)" font-size="10" text-anchor="middle">Turbidity (%)</text>
<path d="M314.2,14 V150 M313.2,149.2 H515.3" stroke="#000" stroke-width="2" fill="none"/>
<path d="M315.28,134.12 L315.37,129.19 L315.45,124.48 L315.53,119.99 L315.61,115.69 L315.70,111.59 L315.78,107.68 L315.86,103.94 L315.95,100.37 L316.03,96.96 L316.11,93.70 L316.20,90.60 L316.28,87.63 L316.37,84.79 L316.46,82.09 L316.55,79.50 L316.64,77.04 L316.73,74.68 L316.82,72.44 L316.91,70.29 L317.01,68.24 L317.10,66.29 L317.20,64.42 L317.29,62.64 L317.39,60.94 L317.49,59.32 L317.59,57.77 L317.69,56.30 L317.79,54.89 L317.89,53.54 L317.99,52.26 L318.09,51.04 L318.20,49.87 L318.30,48.76 L318.40,47.70 L318.51,46.69 L318.61,45.73 L318.72,44.81 L318.82,43.94 L318.93,43.11 L319.03,42.31 L319.14,41.56 L319.25,40.84 L319.35,40.15 L319.46,39.50 L319.57,38.88 L319.67,38.30 L319.78,37.74 L319.89,37.21 L320.00,36.70 L320.10,36.22 L320.21,35.77 L320.32,35.34 L320.42,34.93 L320.53,34.55 L320.63,34.18 L320.74,33.84 L320.84,33.51 L320.94,33.21 L321.05,32.92 L321.15,32.65 L321.25,32.40 L321.35,32.16 L321.45,31.94 L321.54,31.73 L321.64,31.54 L321.73,31.36 L321.82,31.19 L321.91,31.04 L322.00,30.90 L322.09,30.78 L322.17,30.66 L322.25,30.56 L322.32,30.46 L322.40,30.38 L322.47,30.31 L322.53,30.24 L322.60,30.19 L322.66,30.14 L322.71,30.10 L322.76,30.07 L322.81,30.04 L322.85,30.02 L322.40,30.37 L321.44,30.69 L321.34,30.72 L321.42,30.73 L321.50,30.74 L321.59,30.75 L321.67,30.77 L321.75,30.78 L321.84,30.78 L321.92,30.79 L322.00,30.80 L322.08,30.81 L322.17,30.81 L322.25,30.81 L322.33,30.82 L322.42,30.82 L322.50,30.82 L322.58,30.82 L322.67,30.82 L322.75,30.82 L322.83,30.82 L322.91,30.82 L323.00,30.82 L323.08,30.82 L323.16,30.82 L323.25,30.82 L323.33,30.82 L323.41,30.82 L323.50,30.82 L323.58,30.82 L323.66,30.82 L323.74,30.82 L323.83,30.82 L323.91,30.82 L323.99,30.82 L324.08,30.82 L324.16,30.82 L324.24,30.82 L324.33,30.82 L324.41,30.82 L324.49,30.82 L324.57,30.82 L324.66,30.82 L324.74,30.82 L324.82,30.82 L324.91,30.82 L324.99,30.82 L325.07,30.82 L325.16,30.82 L325.24,30.82 L325.32,30.82 L325.40,30.82 L325.49,30.82 L325.57,30.82 L325.65,30.82 L325.74,30.82 L325.82,30.82 L325.90,30.82 L325.99,30.82 L326.07,30.82 L326.15,30.82 L326.23,30.82 L326.32,30.82 L326.40,30.82 L326.48,30.82 L326.57,30.82 L326.65,30.82 L325.94,30.70 L326.20,30.80 L326.58,30.95 L326.97,31.12 L327.37,31.28 L327.77,31.46 L328.17,31.63 L328.57,31.81 L328.98,31.99 L329.38,32.18 L329.79,32.37 L330.20,32.56 L330.60,32.75 L331.01,32.94 L331.42,33.14 L331.83,33.33 L332.24,33.53 L332.65,33.73 L333.06,33.93 L333.47,34.13 L333.88,34.34 L334.29,34.54 L334.69,34.75 L335.10,34.95 L335.51,35.16 L335.92,35.37 L336.33,35.58 L336.74,35.79 L337.15,36.00 L337.56,36.22 L337.96,36.42 L338.34,36.63 L338.72,36.84 L339.10,37.07 L339.49,37.30 L339.88,37.54 L340.27,37.79 L340.66,38.04 L341.05,38.30 L341.45,38.57 L341.85,38.84 L342.25,39.12 L342.64,39.41 L343.05,39.70 L343.45,40.00 L343.85,40.29 L344.25,40.60 L344.66,40.91 L345.06,41.22 L345.46,41.53 L345.87,41.85 L346.27,42.17 L346.68,42.50 L347.09,42.83 L347.49,43.16 L347.90,43.50 L348.30,43.84 L348.71,44.18 L349.12,44.52 L349.53,44.87 L349.93,45.22 L350.34,45.58 L350.75,45.93 L351.16,46.29 L351.56,46.65 L351.97,47.02 L352.38,47.39 L352.79,47.76 L353.20,48.13 L353.62,48.50 L354.03,48.88 L354.44,49.26 L354.85,49.64 L355.27,50.02 L355.69,50.40 L356.10,50.79 L356.52,51.17 L356.95,51.55 L357.37,51.93 L357.80,52.31 L358.21,52.68 L358.62,53.04 L359.02,53.40 L359.43,53.76 L359.83,54.13 L360.23,54.51 L360.63,54.89 L361.04,55.27 L361.44,55.66 L361.84,56.06 L362.25,56.46 L362.65,56.86 L363.05,57.27 L363.46,57.69 L363.86,58.11 L364.26,58.54 L364.66,58.97 L365.07,59.41 L365.47,59.85 L365.87,60.30 L366.27,60.76 L366.67,61.22 L367.07,61.68 L367.47,62.16 L367.87,62.63 L368.27,63.12 L368.67,63.61 L369.07,64.10 L369.47,64.60 L369.87,65.11 L370.27,65.62 L370.67,66.13 L371.07,66.66 L371.47,67.18 L371.87,67.72 L372.27,68.26 L372.67,68.80 L373.07,69.35 L373.47,69.90 L373.87,70.46 L374.27,71.03 L374.67,71.60 L375.07,72.17 L375.47,72.75 L375.87,73.34 L376.27,73.93 L376.67,74.53 L377.07,75.13 L377.47,75.73 L377.87,76.34 L378.27,76.96 L378.68,77.58 L379.08,78.20 L379.48,78.83 L379.88,79.47 L380.29,80.11 L380.69,80.75 L381.10,81.40 L381.50,82.05 L381.91,82.70 L382.31,83.36 L382.72,84.02 L383.13,84.69 L383.53,85.36 L383.94,86.03 L384.35,86.71 L384.76,87.39 L385.17,88.07 L385.58,88.76 L385.99,89.45 L386.40,90.14 L386.82,90.84 L387.23,91.53 L387.64,92.24 L388.06,92.94 L388.47,93.64 L388.88,94.35 L389.29,95.06 L389.71,95.77 L390.12,96.49 L390.54,97.20 L390.95,97.92 L391.36,98.64 L391.78,99.36 L392.19,100.08 L392.61,100.80 L393.02,101.52 L393.44,102.24 L393.85,102.96 L394.27,103.69 L394.68,104.41 L395.10,105.13 L395.51,105.85 L395.93,106.57 L396.35,107.29 L396.76,108.01 L397.18,108.73 L397.60,109.44 L398.01,110.16 L398.43,110.87 L398.85,111.58 L399.27,112.29 L399.68,112.99 L400.10,113.69 L400.52,114.39 L400.94,115.09 L401.36,115.78 L401.78,116.47 L402.20,117.16 L402.61,117.84 L403.03,118.52 L403.45,119.19 L403.88,119.86 L404.30,120.53 L404.72,121.19 L405.14,121.84 L405.56,122.49 L405.98,123.14 L406.40,123.78 L406.83,124.41 L407.25,125.04 L407.67,125.66 L408.10,126.28 L408.52,126.88 L408.95,127.49 L409.37,128.08 L409.80,128.67 L410.22,129.25 L410.65,129.83 L411.08,130.40 L411.50,130.96 L411.93,131.51 L412.36,132.06 L412.79,132.60 L413.22,133.13 L413.65,133.65 L414.08,134.17 L414.51,134.67 L414.94,135.17 L415.38,135.66 L415.81,136.15 L416.24,136.62 L416.68,137.09 L417.11,137.55 L417.55,138.00 L417.99,138.44 L418.42,138.87 L418.86,139.30 L419.30,139.71 L419.74,140.12 L420.18,140.52 L420.62,140.91 L421.07,141.28 L421.52,141.65 L421.98,142.00 L422.43,142.34 L422.89,142.66 L423.36,142.98 L423.82,143.28 L424.29,143.57 L424.76,143.86 L425.24,144.13 L425.72,144.39 L426.20,144.64 L426.68,144.87 L427.17,145.09 L427.65,145.29 L428.13,145.48 L428.61,145.66 L429.08,145.83 L429.56,145.98 L430.03,146.13 L430.51,146.26 L430.98,146.39 L431.45,146.50 L431.91,146.61 L432.37,146.71 L432.83,146.80 L433.29,146.88 L433.75,146.96 L434.20,147.03 L434.65,147.09 L435.10,147.15 L435.54,147.21 L435.98,147.26 L436.42,147.31 L436.86,147.36 L437.30,147.41 L437.73,147.45 L438.16,147.49 L438.59,147.54 L439.02,147.58 L439.44,147.63 L439.87,147.67 L440.29,147.72 L440.72,147.77 L441.14,147.82 L441.56,147.86 L441.98,147.90 L442.40,147.94 L442.82,147.98 L443.23,148.01 L443.65,148.05 L444.07,148.09 L444.48,148.12 L444.90,148.16 L445.31,148.19 L445.73,148.23 L446.14,148.26 L446.55,148.30 L446.97,148.33 L447.39,148.37 L447.81,148.41 L448.23,148.44 L448.65,148.47 L449.07,148.50 L449.49,148.53 L449.91,148.56 L450.33,148.58 L450.75,148.60 L451.17,148.63 L451.58,148.65 L452.00,148.67 L452.42,148.69 L452.84,148.70 L453.26,148.72 L453.68,148.74 L454.09,148.75 L454.51,148.76 L454.93,148.78 L455.35,148.79 L455.76,148.80 L456.18,148.81 L456.60,148.82 L457.01,148.83 L457.43,148.84 L457.85,148.85 L458.26,148.85 L458.68,148.86 L459.10,148.87 L459.51,148.87 L459.93,148.88 L460.35,148.89 L460.76,148.89 L461.18,148.90 L461.59,148.90 L462.01,148.90 L462.43,148.91 L462.84,148.91 L463.26,148.92 L463.67,148.92 L464.09,148.92 L464.50,148.92 L464.92,148.93 L465.34,148.93 L465.75,148.93 L466.17,148.93 L466.58,148.93 L467.00,148.94 L467.41,148.94 L467.83,148.94 L468.24,148.94 L468.66,148.94 L469.07,148.94 L469.49,148.94 L469.90,148.95 L470.32,148.95 L470.74,148.95 L471.15,148.95 L471.57,148.95 L471.98,148.95 L472.40,148.95 L472.81,148.95 L473.23,148.95 L473.64,148.95 L474.06,148.95 L474.47,148.95 L474.89,148.95 L475.30,148.95 L475.72,148.95 L476.13,148.95 L476.55,148.95 L476.96,148.96 L477.38,148.96 L477.79,148.96 L478.21,148.96 L478.62,148.96 L479.04,148.96 L479.45,148.96 L479.87,148.96 L480.28,148.96 L480.70,148.96 L481.11,148.96 L481.53,148.96 L481.94,148.96 L482.36,148.96 L482.77,148.96 L483.19,148.96 L483.60,148.96 L484.02,148.96 L484.43,148.96 L484.85,148.96 L485.26,148.96 L485.68,148.96 L486.09,148.96 L486.51,148.96 L486.92,148.96 L487.34,148.96 L487.75,148.96 L488.17,148.96 L488.58,148.96 L489.00,148.96 L489.41,148.96 L489.83,148.96 L490.24,148.96 L490.66,148.96 L491.07,148.96 L491.49,148.96 L491.90,148.96 L492.32,148.96 L492.73,148.96 L493.15,148.96 L493.56,148.96 L493.98,148.96 L494.39,148.96 L494.81,148.96 L495.22,148.96 L495.64,148.96 L496.05,148.96 L496.47,148.96 L496.88,148.96 L497.30,148.96 L497.71,148.96 L498.13,148.96 L498.54,148.96 L498.96,148.96 L499.37,148.96 L499.79,148.96 L500.20,148.96 L500.62,148.96 L501.03,148.96 L501.45,148.96 L501.86,148.96 L502.28,148.96 L502.69,148.96 L503.11,148.96 L503.52,148.96 L503.94,148.96 L504.35,148.96 L504.77,148.96 L505.18,148.96 L505.60,148.96 L506.01,148.96 L506.43,148.96 L506.84,148.96 L507.26,148.96 L507.67,148.96 L508.09,148.96 L508.50,148.96 L508.92,148.96 L509.33,148.96 L509.75,148.96 L510.16,148.96 L510.58,148.96 L510.99,148.96 L511.41,148.96 L511.82,148.96 L512.24,148.96 L512.65,148.96 L513.07,148.96 L513.48,148.96 L513.90,148.96 L514.23,148.96 L514.23,146.36 L513.90,146.36 L513.48,146.36 L513.07,146.36 L512.65,146.36 L512.24,146.36 L511.82,146.36 L511.41,146.36 L510.99,146.36 L510.58,146.36 L510.16,146.36 L509.75,146.36 L509.33,146.36 L508.92,146.36 L508.50,146.36 L508.09,146.36 L507.67,146.36 L507.26,146.36 L506.84,146.36 L506.43,146.36 L506.01,146.36 L505.60,146.36 L505.18,146.36 L504.77,146.36 L504.35,146.36 L503.94,146.36 L503.52,146.36 L503.11,146.36 L502.69,146.36 L502.28,146.36 L501.86,146.36 L501.45,146.36 L501.03,146.36 L500.62,146.36 L500.20,146.36 L499.79,146.36 L499.37,146.36 L498.96,146.36 L498.54,146.36 L498.13,146.36 L497.71,146.36 L497.30,146.36 L496.88,146.36 L496.47,146.36 L496.05,146.36 L495.64,146.36 L495.22,146.36 L494.81,146.36 L494.39,146.36 L493.98,146.36 L493.56,146.36 L493.15,146.36 L492.73,146.36 L492.32,146.36 L491.90,146.36 L491.49,146.36 L491.07,146.36 L490.66,146.36 L490.24,146.36 L489.83,146.36 L489.41,146.36 L489.00,146.36 L488.58,146.36 L488.17,146.36 L487.75,146.36 L487.34,146.36 L486.92,146.36 L486.51,146.36 L486.09,146.36 L485.68,146.36 L485.26,146.36 L484.85,146.36 L484.43,146.36 L484.02,146.36 L483.60,146.36 L483.19,146.36 L482.77,146.36 L482.36,146.36 L481.94,146.36 L481.53,146.36 L481.11,146.36 L480.70,146.36 L480.28,146.36 L479.87,146.36 L479.45,146.36 L479.04,146.36 L478.62,146.36 L478.21,146.36 L477.79,146.36 L477.38,146.36 L476.96,146.36 L476.55,146.35 L476.13,146.35 L475.72,146.35 L475.30,146.35 L474.89,146.35 L474.47,146.35 L474.06,146.35 L473.64,146.35 L473.23,146.35 L472.81,146.35 L472.40,146.35 L471.99,146.35 L471.57,146.35 L471.16,146.35 L470.74,146.35 L470.33,146.35 L469.91,146.35 L469.50,146.34 L469.08,146.34 L468.67,146.34 L468.25,146.34 L467.84,146.34 L467.42,146.34 L467.01,146.34 L466.59,146.33 L466.18,146.33 L465.76,146.33 L465.35,146.33 L464.94,146.33 L464.52,146.32 L464.11,146.32 L463.69,146.32 L463.28,146.32 L462.86,146.31 L462.45,146.31 L462.04,146.30 L461.62,146.30 L461.21,146.30 L460.79,146.29 L460.38,146.29 L459.97,146.28 L459.55,146.27 L459.14,146.27 L458.72,146.26 L458.31,146.25 L457.90,146.25 L457.48,146.24 L457.07,146.23 L456.66,146.22 L456.25,146.21 L455.83,146.20 L455.42,146.19 L455.01,146.18 L454.59,146.16 L454.18,146.15 L453.77,146.14 L453.36,146.12 L452.95,146.11 L452.53,146.09 L452.12,146.07 L451.71,146.05 L451.30,146.03 L450.89,146.01 L450.48,145.98 L450.07,145.96 L449.66,145.93 L449.25,145.91 L448.84,145.88 L448.43,145.85 L448.02,145.82 L447.61,145.78 L447.20,145.75 L446.78,145.71 L446.37,145.67 L445.95,145.63 L445.53,145.60 L445.12,145.56 L444.70,145.53 L444.29,145.50 L443.87,145.46 L443.46,145.42 L443.05,145.39 L442.64,145.35 L442.23,145.31 L441.82,145.27 L441.41,145.23 L441.00,145.19 L440.59,145.14 L440.19,145.09 L439.78,145.03 L439.38,144.97 L438.98,144.89 L438.58,144.81 L438.18,144.73 L437.78,144.63 L437.39,144.53 L436.99,144.41 L436.60,144.30 L436.22,144.17 L435.83,144.04 L435.45,143.89 L435.07,143.75 L434.69,143.59 L434.32,143.43 L433.94,143.26 L433.57,143.08 L433.21,142.90 L432.84,142.71 L432.48,142.51 L432.12,142.30 L431.76,142.09 L431.41,141.87 L431.05,141.65 L430.70,141.41 L430.35,141.17 L430.00,140.93 L429.65,140.68 L429.30,140.42 L428.95,140.15 L428.61,139.87 L428.26,139.59 L427.91,139.30 L427.55,139.00 L427.18,138.69 L426.82,138.38 L426.45,138.06 L426.08,137.74 L425.71,137.41 L425.33,137.08 L424.95,136.74 L424.57,136.40 L424.19,136.05 L423.80,135.70 L423.41,135.34 L423.01,134.97 L422.62,134.59 L422.23,134.20 L421.84,133.80 L421.44,133.39 L421.05,132.98 L420.65,132.55 L420.26,132.12 L419.86,131.68 L419.46,131.23 L419.07,130.77 L418.67,130.30 L418.27,129.82 L417.87,129.34 L417.47,128.84 L417.07,128.34 L416.66,127.83 L416.26,127.31 L415.86,126.78 L415.46,126.24 L415.05,125.70 L414.65,125.14 L414.25,124.58 L413.84,124.02 L413.44,123.44 L413.03,122.86 L412.62,122.27 L412.22,121.67 L411.81,121.07 L411.40,120.46 L410.99,119.84 L410.59,119.22 L410.18,118.59 L409.77,117.95 L409.36,117.31 L408.95,116.66 L408.54,116.01 L408.13,115.35 L407.72,114.69 L407.31,114.02 L406.90,113.35 L406.49,112.68 L406.08,111.99 L405.67,111.31 L405.25,110.62 L404.84,109.93 L404.43,109.23 L404.02,108.53 L403.61,107.83 L403.19,107.13 L402.78,106.42 L402.37,105.71 L401.95,105.00 L401.54,104.28 L401.13,103.57 L400.71,102.85 L400.30,102.13 L399.88,101.41 L399.47,100.69 L399.05,99.97 L398.64,99.25 L398.22,98.53 L397.81,97.81 L397.39,97.08 L396.98,96.36 L396.56,95.64 L396.15,94.92 L395.73,94.20 L395.31,93.48 L394.90,92.76 L394.48,92.05 L394.06,91.33 L393.65,90.62 L393.23,89.90 L392.81,89.19 L392.40,88.49 L391.98,87.78 L391.56,87.08 L391.14,86.37 L390.73,85.68 L390.31,84.98 L389.89,84.29 L389.47,83.60 L389.04,82.92 L388.62,82.23 L388.20,81.56 L387.78,80.88 L387.35,80.21 L386.93,79.55 L386.50,78.88 L386.08,78.23 L385.65,77.57 L385.23,76.92 L384.80,76.28 L384.38,75.64 L383.95,75.00 L383.52,74.37 L383.09,73.74 L382.66,73.12 L382.24,72.50 L381.81,71.89 L381.38,71.28 L380.95,70.68 L380.52,70.08 L380.09,69.49 L379.66,68.90 L379.23,68.31 L378.80,67.74 L378.37,67.16 L377.94,66.59 L377.51,66.03 L377.08,65.47 L376.65,64.92 L376.22,64.37 L375.79,63.83 L375.36,63.30 L374.93,62.76 L374.50,62.24 L374.07,61.72 L373.64,61.20 L373.20,60.69 L372.77,60.18 L372.34,59.68 L371.91,59.19 L371.48,58.70 L371.06,58.21 L370.63,57.73 L370.20,57.26 L369.77,56.78 L369.34,56.32 L368.91,55.86 L368.48,55.40 L368.05,54.95 L367.63,54.51 L367.20,54.07 L366.77,53.63 L366.34,53.20 L365.92,52.77 L365.49,52.35 L365.06,51.93 L364.64,51.52 L364.21,51.11 L363.78,50.71 L363.36,50.31 L362.93,49.92 L362.50,49.53 L362.08,49.15 L361.65,48.78 L361.24,48.42 L360.84,48.06 L360.43,47.69 L360.02,47.32 L359.61,46.95 L359.20,46.57 L358.79,46.19 L358.37,45.81 L357.96,45.43 L357.54,45.05 L357.12,44.66 L356.70,44.28 L356.28,43.90 L355.86,43.52 L355.44,43.15 L355.02,42.77 L354.60,42.40 L354.18,42.02 L353.76,41.65 L353.33,41.29 L352.91,40.92 L352.49,40.56 L352.06,40.20 L351.64,39.85 L351.22,39.50 L350.79,39.15 L350.37,38.80 L349.95,38.45 L349.52,38.11 L349.10,37.78 L348.67,37.44 L348.25,37.11 L347.82,36.78 L347.39,36.46 L346.97,36.13 L346.54,35.81 L346.11,35.50 L345.68,35.19 L345.25,34.88 L344.82,34.58 L344.39,34.28 L343.95,33.98 L343.52,33.70 L343.08,33.41 L342.64,33.13 L342.20,32.86 L341.75,32.59 L341.30,32.33 L340.85,32.08 L340.41,31.83 L339.97,31.61 L339.55,31.39 L339.13,31.17 L338.71,30.95 L338.29,30.74 L337.87,30.52 L337.45,30.31 L337.03,30.10 L336.61,29.89 L336.19,29.68 L335.77,29.47 L335.35,29.26 L334.93,29.06 L334.51,28.85 L334.09,28.65 L333.67,28.45 L333.24,28.25 L332.82,28.05 L332.40,27.85 L331.98,27.65 L331.55,27.45 L331.13,27.26 L330.70,27.07 L330.28,26.88 L329.85,26.69 L329.42,26.50 L328.98,26.32 L328.54,26.14 L328.10,25.96 L327.52,25.74 L326.65,25.62 L326.57,25.62 L326.48,25.62 L326.40,25.62 L326.32,25.62 L326.23,25.62 L326.15,25.62 L326.07,25.62 L325.99,25.62 L325.90,25.62 L325.82,25.62 L325.74,25.62 L325.65,25.62 L325.57,25.62 L325.49,25.62 L325.40,25.62 L325.32,25.62 L325.24,25.62 L325.16,25.62 L325.07,25.62 L324.99,25.62 L324.91,25.62 L324.82,25.62 L324.74,25.62 L324.66,25.62 L324.57,25.62 L324.49,25.62 L324.41,25.62 L324.33,25.62 L324.24,25.62 L324.16,25.62 L324.08,25.62 L323.99,25.62 L323.91,25.62 L323.83,25.62 L323.74,25.62 L323.66,25.62 L323.58,25.62 L323.50,25.62 L323.41,25.62 L323.33,25.62 L323.25,25.62 L323.16,25.62 L323.08,25.62 L323.00,25.62 L322.91,25.62 L322.83,25.62 L322.75,25.62 L322.67,25.62 L322.58,25.62 L322.50,25.62 L322.42,25.62 L322.33,25.62 L322.25,25.63 L322.17,25.63 L322.08,25.63 L322.00,25.64 L321.92,25.65 L321.84,25.66 L321.75,25.66 L321.67,25.67 L321.59,25.69 L321.50,25.70 L321.42,25.71 L321.34,25.72 L321.07,25.75 L319.94,26.10 L319.33,26.61 L319.20,26.77 L319.08,26.93 L318.97,27.10 L318.86,27.27 L318.75,27.45 L318.65,27.64 L318.55,27.83 L318.45,28.02 L318.36,28.23 L318.27,28.43 L318.18,28.65 L318.10,28.87 L318.02,29.10 L317.94,29.34 L317.86,29.59 L317.79,29.84 L317.72,30.10 L317.65,30.38 L317.58,30.66 L317.51,30.96 L317.44,31.27 L317.38,31.59 L317.31,31.92 L317.25,32.27 L317.19,32.63 L317.13,33.01 L317.06,33.40 L317.00,33.81 L316.94,34.24 L316.88,34.69 L316.82,35.16 L316.76,35.65 L316.70,36.16 L316.65,36.70 L316.59,37.26 L316.53,37.85 L316.47,38.47 L316.41,39.11 L316.35,39.79 L316.29,40.49 L316.23,41.23 L316.17,42.01 L316.11,42.82 L316.05,43.67 L315.99,44.56 L315.93,45.50 L315.87,46.47 L315.81,47.50 L315.75,48.57 L315.68,49.69 L315.62,50.87 L315.55,52.10 L315.49,53.39 L315.43,54.75 L315.36,56.16 L315.29,57.65 L315.23,59.20 L315.16,60.83 L315.09,62.54 L315.02,64.32 L314.95,66.19 L314.88,68.15 L314.81,70.21 L314.73,72.36 L314.66,74.61 L314.58,76.97 L314.51,79.44 L314.43,82.02 L314.35,84.73 L314.27,87.57 L314.19,90.54 L314.11,93.65 L314.03,96.91 L313.95,100.32 L313.86,103.89 L313.78,107.63 L313.70,111.55 L313.62,115.65 L313.53,119.95 L313.45,124.44 L313.37,129.15 L313.28,134.08 Z" fill="#acacac"/>
<path d="M315.08,133.75 L315.17,128.82 L315.25,124.11 L315.33,119.62 L315.41,115.32 L315.50,111.22 L315.58,107.31 L315.66,103.57 L315.75,100.00 L315.83,96.59 L315.91,93.33 L316.00,90.22 L316.08,87.26 L316.16,84.42 L316.24,81.72 L316.33,79.13 L316.41,76.66 L316.49,74.31 L316.58,72.06 L316.66,69.91 L316.74,67.87 L316.83,65.91 L316.92,64.04 L317.01,62.26 L317.10,60.56 L317.19,58.94 L317.29,57.39 L317.39,55.91 L317.49,54.50 L317.59,53.16 L317.69,51.88 L317.79,50.65 L317.90,49.49 L318.01,48.38 L318.12,47.31 L318.23,46.30 L318.34,45.34 L318.45,44.42 L318.56,43.55 L318.68,42.71 L318.80,41.92 L318.91,41.17 L319.03,40.45 L319.15,39.76 L319.27,39.11 L319.39,38.49 L319.51,37.91 L319.64,37.35 L319.76,36.82 L319.88,36.32 L320.01,35.84 L320.13,35.39 L320.25,34.96 L320.38,34.56 L320.50,34.18 L320.63,33.81 L320.75,33.48 L320.87,33.16 L321.00,32.86 L321.12,32.57 L321.24,32.31 L321.36,32.06 L321.48,31.84 L321.60,31.62 L321.72,31.43 L321.84,31.24 L321.95,31.08 L322.06,30.93 L322.17,30.79 L322.28,30.66 L322.38,30.55 L322.48,30.45 L322.58,30.37 L322.68,30.30 L322.76,30.23 L322.85,30.18 L322.93,30.14 L323.01,30.11 L323.08,30.09 L323.14,30.08 L323.20,30.07 L323.25,30.08 L323.30,30.09 L322.73,30.56 L321.49,31.00 L321.34,31.05 L321.42,31.08 L321.50,31.12 L321.59,31.15 L321.67,31.19 L321.75,31.22 L321.84,31.25 L321.92,31.28 L322.00,31.31 L322.08,31.34 L322.17,31.37 L322.25,31.39 L322.33,31.41 L322.42,31.43 L322.50,31.45 L322.58,31.47 L322.67,31.49 L322.75,31.50 L322.83,31.52 L322.91,31.53 L323.00,31.54 L323.08,31.54 L323.16,31.55 L323.25,31.55 L323.33,31.55 L323.41,31.55 L323.50,31.55 L323.58,31.55 L323.66,31.55 L323.74,31.55 L323.83,31.55 L323.91,31.55 L323.99,31.55 L324.08,31.55 L324.16,31.55 L324.24,31.55 L324.33,31.55 L324.41,31.55 L324.49,31.55 L324.57,31.55 L324.66,31.55 L324.74,31.55 L324.82,31.55 L324.91,31.55 L324.99,31.55 L325.07,31.55 L325.16,31.55 L325.24,31.55 L325.32,31.55 L325.40,31.55 L325.49,31.55 L325.57,31.55 L325.65,31.55 L325.74,31.55 L325.82,31.55 L325.90,31.55 L325.99,31.55 L326.07,31.55 L326.15,31.55 L326.23,31.55 L326.32,31.55 L326.40,31.55 L326.48,31.55 L326.57,31.55 L326.65,31.55 L325.61,31.38 L325.80,31.46 L326.17,31.61 L326.55,31.76 L326.94,31.93 L327.33,32.10 L327.72,32.27 L328.12,32.45 L328.52,32.63 L328.92,32.81 L329.33,33.00 L329.73,33.19 L330.13,33.38 L330.54,33.57 L330.95,33.76 L331.35,33.96 L331.76,34.15 L332.16,34.35 L332.57,34.55 L332.98,34.75 L333.39,34.95 L333.79,35.16 L334.20,35.36 L334.61,35.57 L335.02,35.77 L335.42,35.98 L335.83,36.19 L336.24,36.40 L336.65,36.61 L337.05,36.83 L337.46,37.04 L337.87,37.25 L338.28,37.47 L338.69,37.69 L339.09,37.91 L339.50,38.12 L339.91,38.35 L340.32,38.57 L340.73,38.79 L341.13,39.01 L341.54,39.24 L341.95,39.47 L342.36,39.69 L342.77,39.92 L343.17,40.15 L343.58,40.38 L343.99,40.61 L344.40,40.85 L344.81,41.08 L345.22,41.32 L345.63,41.55 L346.03,41.79 L346.44,42.03 L346.85,42.27 L347.26,42.51 L347.67,42.75 L348.08,43.00 L348.49,43.24 L348.89,43.49 L349.30,43.73 L349.71,43.98 L350.12,44.23 L350.53,44.48 L350.94,44.73 L351.35,44.98 L351.76,45.24 L352.17,45.49 L352.57,45.75 L352.98,46.00 L353.39,46.26 L353.80,46.52 L354.21,46.78 L354.62,47.04 L355.03,47.30 L355.44,47.57 L355.85,47.83 L356.26,48.10 L356.67,48.36 L357.08,48.63 L357.49,48.90 L357.90,49.17 L358.31,49.44 L358.72,49.71 L359.13,49.98 L359.54,50.26 L359.95,50.53 L360.36,50.81 L360.77,51.09 L361.18,51.36 L361.59,51.64 L362.00,51.92 L362.41,52.20 L362.82,52.48 L363.23,52.77 L363.64,53.05 L364.05,53.33 L364.46,53.62 L364.87,53.91 L365.28,54.19 L365.69,54.48 L366.10,54.77 L366.51,55.06 L366.92,55.35 L367.33,55.64 L367.74,55.94 L368.15,56.23 L368.57,56.53 L368.98,56.82 L369.39,57.12 L369.80,57.42 L370.21,57.71 L370.62,58.01 L371.03,58.31 L371.44,58.61 L371.85,58.91 L372.27,59.22 L372.68,59.52 L373.09,59.82 L373.50,60.13 L373.91,60.43 L374.32,60.74 L374.74,61.05 L375.15,61.35 L375.56,61.66 L375.97,61.97 L376.38,62.28 L376.80,62.59 L377.21,62.90 L377.62,63.21 L378.03,63.53 L378.44,63.84 L378.86,64.15 L379.27,64.47 L379.68,64.78 L380.09,65.10 L380.51,65.41 L380.92,65.73 L381.33,66.05 L381.74,66.36 L382.16,66.68 L382.57,67.00 L382.98,67.32 L383.40,67.64 L383.81,67.96 L384.22,68.28 L384.64,68.60 L385.05,68.93 L385.46,69.25 L385.88,69.57 L386.29,69.89 L386.70,70.22 L387.12,70.54 L387.53,70.87 L387.94,71.19 L388.36,71.52 L388.77,71.84 L389.18,72.17 L389.60,72.49 L390.01,72.82 L390.43,73.15 L390.84,73.47 L391.25,73.80 L391.67,74.13 L392.08,74.46 L392.50,74.78 L392.91,75.11 L393.32,75.44 L393.74,75.77 L394.15,76.10 L394.57,76.43 L394.98,76.76 L395.40,77.08 L395.81,77.41 L396.23,77.74 L396.64,78.07 L397.06,78.40 L397.47,78.73 L397.89,79.06 L398.30,79.39 L398.72,79.72 L399.13,80.05 L399.55,80.38 L399.96,80.71 L400.38,81.04 L400.79,81.37 L401.21,81.70 L401.62,82.03 L402.04,82.36 L402.45,82.69 L402.87,83.02 L403.29,83.35 L403.70,83.68 L404.12,84.01 L404.53,84.34 L404.95,84.67 L405.37,84.99 L405.78,85.32 L406.20,85.65 L406.61,85.98 L407.03,86.31 L407.45,86.63 L407.86,86.96 L408.28,87.29 L408.70,87.61 L409.11,87.94 L409.53,88.27 L409.95,88.59 L410.36,88.92 L410.78,89.24 L411.20,89.57 L411.61,89.89 L412.03,90.22 L412.45,90.54 L412.86,90.86 L413.28,91.19 L413.70,91.51 L414.11,91.83 L414.53,92.15 L414.95,92.47 L415.37,92.79 L415.78,93.11 L416.20,93.43 L416.62,93.75 L417.04,94.07 L417.45,94.39 L417.87,94.70 L418.29,95.02 L418.71,95.34 L419.13,95.65 L419.54,95.97 L419.96,96.28 L420.38,96.59 L420.80,96.91 L421.22,97.22 L421.63,97.53 L422.05,97.84 L422.47,98.15 L422.89,98.46 L423.31,98.77 L423.73,99.08 L424.14,99.38 L424.56,99.69 L424.98,100.00 L425.40,100.30 L425.82,100.61 L426.24,100.91 L426.66,101.21 L427.08,101.52 L427.50,101.82 L427.91,102.12 L428.33,102.42 L428.75,102.72 L429.17,103.01 L429.59,103.31 L430.01,103.61 L430.43,103.90 L430.85,104.20 L431.27,104.49 L431.69,104.78 L432.11,105.08 L432.53,105.37 L432.95,105.66 L433.37,105.95 L433.79,106.23 L434.21,106.52 L434.63,106.81 L435.05,107.09 L435.47,107.38 L435.89,107.66 L436.31,107.94 L436.73,108.22 L437.15,108.51 L437.57,108.78 L437.99,109.06 L438.41,109.34 L438.83,109.62 L439.25,109.89 L439.67,110.17 L440.09,110.44 L440.51,110.71 L440.93,110.99 L441.35,111.26 L441.77,111.52 L442.19,111.79 L442.61,112.06 L443.03,112.33 L443.45,112.59 L443.87,112.86 L444.30,113.12 L444.72,113.38 L445.14,113.64 L445.56,113.90 L445.98,114.16 L446.40,114.42 L446.82,114.67 L447.24,114.93 L447.66,115.18 L448.09,115.44 L448.51,115.69 L448.93,115.94 L449.35,116.19 L449.77,116.44 L450.19,116.69 L450.61,116.93 L451.04,117.18 L451.46,117.42 L451.88,117.67 L452.30,117.91 L452.72,118.15 L453.14,118.39 L453.56,118.63 L453.99,118.86 L454.41,119.10 L454.83,119.33 L455.25,119.57 L455.67,119.80 L456.10,120.03 L456.52,120.26 L456.94,120.49 L457.36,120.72 L457.78,120.95 L458.21,121.17 L458.63,121.40 L459.05,121.62 L459.47,121.84 L459.89,122.07 L460.32,122.29 L460.74,122.50 L461.16,122.72 L461.58,122.94 L462.01,123.15 L462.43,123.37 L462.85,123.58 L463.27,123.79 L463.69,124.00 L464.12,124.21 L464.54,124.42 L464.96,124.63 L465.38,124.84 L465.81,125.04 L466.23,125.24 L466.65,125.45 L467.07,125.65 L467.50,125.85 L467.92,126.05 L468.34,126.25 L468.76,126.44 L469.19,126.64 L469.61,126.83 L470.03,127.03 L470.45,127.22 L470.88,127.41 L471.30,127.60 L471.72,127.79 L472.14,127.98 L472.57,128.17 L472.99,128.35 L473.41,128.54 L473.83,128.72 L474.26,128.90 L474.68,129.08 L475.10,129.26 L475.52,129.44 L475.95,129.62 L476.37,129.80 L476.79,129.97 L477.21,130.15 L477.64,130.32 L478.06,130.49 L478.48,130.66 L478.90,130.83 L479.33,131.00 L479.75,131.17 L480.17,131.34 L480.60,131.50 L481.02,131.66 L481.44,131.83 L481.87,131.99 L482.29,132.15 L482.71,132.30 L483.14,132.46 L483.56,132.62 L483.98,132.77 L484.41,132.92 L484.83,133.07 L485.26,133.22 L485.68,133.37 L486.10,133.52 L486.53,133.67 L486.95,133.81 L487.38,133.96 L487.80,134.10 L488.22,134.24 L488.65,134.38 L489.07,134.52 L489.50,134.66 L489.92,134.79 L490.34,134.93 L490.77,135.07 L491.19,135.20 L491.62,135.33 L492.04,135.46 L492.47,135.59 L492.89,135.72 L493.31,135.85 L493.74,135.98 L494.16,136.11 L494.59,136.23 L495.01,136.36 L495.43,136.48 L495.86,136.60 L496.28,136.72 L496.71,136.84 L497.13,136.96 L497.55,137.08 L497.98,137.20 L498.40,137.32 L498.82,137.43 L499.25,137.55 L499.67,137.66 L500.09,137.78 L500.52,137.89 L500.94,138.00 L501.36,138.11 L501.79,138.23 L502.21,138.34 L502.63,138.44 L503.05,138.55 L503.48,138.66 L503.90,138.77 L504.32,138.87 L504.74,138.98 L505.17,139.09 L505.59,139.19 L506.01,139.29 L506.43,139.40 L506.85,139.50 L507.28,139.60 L507.70,139.70 L508.12,139.81 L508.54,139.91 L508.96,140.01 L509.38,140.11 L509.80,140.21 L510.23,140.30 L510.65,140.40 L511.07,140.50 L511.49,140.60 L511.91,140.69 L512.33,140.79 L512.75,140.89 L513.17,140.98 L513.59,141.08 L514.01,141.17 L514.43,141.26 L514.51,141.28 L515.94,134.84 L515.86,134.82 L515.45,134.73 L515.04,134.64 L514.63,134.54 L514.22,134.45 L513.81,134.36 L513.40,134.26 L512.99,134.17 L512.58,134.07 L512.17,133.97 L511.76,133.87 L511.35,133.77 L510.94,133.67 L510.53,133.57 L510.13,133.47 L509.72,133.36 L509.31,133.26 L508.90,133.15 L508.49,133.04 L508.08,132.93 L507.68,132.82 L507.27,132.71 L506.86,132.60 L506.45,132.49 L506.04,132.38 L505.64,132.26 L505.23,132.15 L504.82,132.03 L504.41,131.91 L504.01,131.79 L503.60,131.68 L503.19,131.56 L502.79,131.43 L502.38,131.31 L501.97,131.19 L501.57,131.07 L501.16,130.94 L500.75,130.82 L500.35,130.69 L499.94,130.56 L499.53,130.43 L499.13,130.30 L498.72,130.17 L498.31,130.04 L497.91,129.91 L497.50,129.78 L497.10,129.64 L496.69,129.51 L496.28,129.38 L495.88,129.24 L495.47,129.10 L495.07,128.96 L494.66,128.83 L494.25,128.69 L493.85,128.55 L493.44,128.40 L493.04,128.26 L492.63,128.12 L492.23,127.98 L491.82,127.83 L491.41,127.69 L491.01,127.54 L490.60,127.39 L490.20,127.24 L489.79,127.10 L489.38,126.95 L488.98,126.80 L488.57,126.65 L488.17,126.49 L487.76,126.34 L487.35,126.19 L486.95,126.03 L486.54,125.88 L486.14,125.72 L485.73,125.57 L485.32,125.41 L484.92,125.25 L484.51,125.10 L484.10,124.94 L483.70,124.78 L483.29,124.62 L482.88,124.46 L482.48,124.29 L482.07,124.13 L481.66,123.97 L481.25,123.80 L480.85,123.64 L480.44,123.47 L480.03,123.30 L479.62,123.14 L479.22,122.97 L478.81,122.80 L478.40,122.63 L477.99,122.45 L477.59,122.28 L477.18,122.10 L476.77,121.93 L476.37,121.75 L475.96,121.57 L475.55,121.39 L475.14,121.21 L474.74,121.03 L474.33,120.85 L473.92,120.67 L473.51,120.48 L473.11,120.30 L472.70,120.11 L472.29,119.92 L471.88,119.73 L471.48,119.54 L471.07,119.35 L470.66,119.16 L470.25,118.97 L469.85,118.77 L469.44,118.58 L469.03,118.38 L468.62,118.18 L468.21,117.98 L467.81,117.78 L467.40,117.58 L466.99,117.38 L466.58,117.18 L466.18,116.97 L465.77,116.77 L465.36,116.56 L464.95,116.35 L464.55,116.14 L464.14,115.93 L463.73,115.72 L463.32,115.51 L462.91,115.29 L462.51,115.08 L462.10,114.86 L461.69,114.65 L461.28,114.43 L460.87,114.21 L460.47,113.99 L460.06,113.77 L459.65,113.54 L459.24,113.32 L458.83,113.09 L458.43,112.87 L458.02,112.64 L457.61,112.41 L457.20,112.18 L456.79,111.95 L456.38,111.72 L455.98,111.48 L455.57,111.25 L455.16,111.01 L454.75,110.78 L454.34,110.54 L453.93,110.30 L453.53,110.06 L453.12,109.82 L452.71,109.58 L452.30,109.33 L451.89,109.09 L451.48,108.84 L451.07,108.60 L450.66,108.35 L450.26,108.10 L449.85,107.85 L449.44,107.60 L449.03,107.35 L448.62,107.09 L448.21,106.84 L447.80,106.58 L447.39,106.33 L446.98,106.07 L446.57,105.81 L446.16,105.55 L445.76,105.29 L445.35,105.03 L444.94,104.76 L444.53,104.50 L444.12,104.23 L443.71,103.97 L443.30,103.70 L442.89,103.43 L442.48,103.16 L442.07,102.89 L441.66,102.62 L441.25,102.35 L440.84,102.07 L440.43,101.80 L440.02,101.52 L439.61,101.25 L439.20,100.97 L438.79,100.69 L438.38,100.41 L437.97,100.13 L437.56,99.85 L437.15,99.57 L436.74,99.28 L436.33,99.00 L435.92,98.71 L435.51,98.43 L435.10,98.14 L434.69,97.85 L434.28,97.56 L433.87,97.27 L433.45,96.98 L433.04,96.69 L432.63,96.39 L432.22,96.10 L431.81,95.81 L431.40,95.51 L430.99,95.21 L430.58,94.92 L430.17,94.62 L429.76,94.32 L429.34,94.02 L428.93,93.72 L428.52,93.42 L428.11,93.12 L427.70,92.81 L427.29,92.51 L426.88,92.20 L426.46,91.90 L426.05,91.59 L425.64,91.29 L425.23,90.98 L424.82,90.67 L424.40,90.36 L423.99,90.05 L423.58,89.74 L423.17,89.43 L422.76,89.12 L422.34,88.81 L421.93,88.49 L421.52,88.18 L421.11,87.87 L420.69,87.55 L420.28,87.24 L419.87,86.92 L419.46,86.60 L419.04,86.29 L418.63,85.97 L418.22,85.65 L417.81,85.33 L417.39,85.01 L416.98,84.69 L416.57,84.37 L416.15,84.05 L415.74,83.73 L415.33,83.41 L414.91,83.08 L414.50,82.76 L414.09,82.44 L413.67,82.12 L413.26,81.79 L412.85,81.47 L412.43,81.14 L412.02,80.82 L411.61,80.49 L411.19,80.17 L410.78,79.84 L410.36,79.51 L409.95,79.19 L409.54,78.86 L409.12,78.53 L408.71,78.20 L408.29,77.88 L407.88,77.55 L407.47,77.22 L407.05,76.89 L406.64,76.56 L406.22,76.23 L405.81,75.91 L405.39,75.58 L404.98,75.25 L404.56,74.92 L404.15,74.59 L403.74,74.26 L403.32,73.93 L402.91,73.60 L402.49,73.27 L402.08,72.94 L401.66,72.61 L401.25,72.28 L400.83,71.95 L400.41,71.62 L400.00,71.29 L399.58,70.96 L399.17,70.63 L398.75,70.30 L398.34,69.97 L397.92,69.64 L397.51,69.31 L397.09,68.98 L396.67,68.65 L396.26,68.32 L395.84,68.00 L395.43,67.67 L395.01,67.34 L394.59,67.01 L394.18,66.68 L393.76,66.35 L393.35,66.03 L392.93,65.70 L392.51,65.37 L392.10,65.04 L391.68,64.72 L391.26,64.39 L390.85,64.06 L390.43,63.74 L390.01,63.41 L389.60,63.09 L389.18,62.76 L388.76,62.44 L388.35,62.12 L387.93,61.79 L387.51,61.47 L387.10,61.15 L386.68,60.82 L386.26,60.50 L385.84,60.18 L385.43,59.86 L385.01,59.54 L384.59,59.22 L384.17,58.90 L383.76,58.58 L383.34,58.26 L382.92,57.95 L382.50,57.63 L382.09,57.31 L381.67,57.00 L381.25,56.68 L380.83,56.37 L380.41,56.05 L380.00,55.74 L379.58,55.43 L379.16,55.11 L378.74,54.80 L378.32,54.49 L377.91,54.18 L377.49,53.87 L377.07,53.56 L376.65,53.25 L376.23,52.95 L375.81,52.64 L375.39,52.33 L374.98,52.03 L374.56,51.73 L374.14,51.42 L373.72,51.12 L373.30,50.82 L372.88,50.52 L372.46,50.21 L372.04,49.92 L371.62,49.62 L371.20,49.32 L370.79,49.02 L370.37,48.73 L369.95,48.43 L369.53,48.14 L369.11,47.84 L368.69,47.55 L368.27,47.26 L367.85,46.97 L367.43,46.68 L367.01,46.39 L366.59,46.10 L366.17,45.81 L365.75,45.52 L365.33,45.24 L364.91,44.95 L364.49,44.67 L364.07,44.39 L363.65,44.11 L363.23,43.83 L362.81,43.55 L362.39,43.27 L361.97,42.99 L361.55,42.71 L361.13,42.44 L360.71,42.16 L360.29,41.89 L359.87,41.62 L359.45,41.35 L359.03,41.08 L358.61,40.81 L358.18,40.54 L357.76,40.27 L357.34,40.01 L356.92,39.74 L356.50,39.48 L356.08,39.21 L355.66,38.95 L355.24,38.69 L354.82,38.43 L354.40,38.17 L353.98,37.91 L353.55,37.66 L353.13,37.40 L352.71,37.15 L352.29,36.90 L351.87,36.64 L351.45,36.39 L351.03,36.14 L350.61,35.89 L350.18,35.65 L349.76,35.40 L349.34,35.15 L348.92,34.91 L348.50,34.67 L348.08,34.43 L347.65,34.18 L347.23,33.94 L346.81,33.71 L346.39,33.47 L345.97,33.23 L345.55,33.00 L345.12,32.76 L344.70,32.53 L344.28,32.30 L343.86,32.07 L343.44,31.84 L343.01,31.61 L342.59,31.38 L342.17,31.16 L341.75,30.93 L341.33,30.71 L340.90,30.49 L340.48,30.27 L340.06,30.05 L339.64,29.83 L339.21,29.61 L338.79,29.39 L338.37,29.18 L337.95,28.96 L337.53,28.75 L337.10,28.54 L336.68,28.33 L336.26,28.12 L335.83,27.91 L335.41,27.70 L334.99,27.50 L334.56,27.29 L334.14,27.09 L333.72,26.89 L333.29,26.68 L332.87,26.49 L332.44,26.29 L332.01,26.09 L331.58,25.89 L331.15,25.70 L330.72,25.51 L330.29,25.31 L329.85,25.13 L329.41,24.94 L328.96,24.75 L328.50,24.57 L327.86,24.33 L326.65,24.15 L326.57,24.15 L326.48,24.15 L326.40,24.15 L326.32,24.15 L326.23,24.15 L326.15,24.15 L326.07,24.15 L325.99,24.15 L325.90,24.15 L325.82,24.15 L325.74,24.15 L325.65,24.15 L325.57,24.15 L325.49,24.15 L325.40,24.15 L325.32,24.15 L325.24,24.15 L325.16,24.15 L325.07,24.15 L324.99,24.15 L324.91,24.15 L324.82,24.15 L324.74,24.15 L324.66,24.15 L324.57,24.15 L324.49,24.15 L324.41,24.15 L324.33,24.15 L324.24,24.15 L324.16,24.15 L324.08,24.15 L323.99,24.15 L323.91,24.15 L323.83,24.15 L323.74,24.15 L323.66,24.15 L323.58,24.15 L323.50,24.15 L323.41,24.15 L323.33,24.15 L323.25,24.16 L323.16,24.16 L323.08,24.16 L323.00,24.17 L322.91,24.18 L322.83,24.19 L322.75,24.20 L322.67,24.22 L322.58,24.24 L322.50,24.25 L322.42,24.27 L322.33,24.29 L322.25,24.32 L322.17,24.34 L322.08,24.37 L322.00,24.40 L321.92,24.43 L321.84,24.46 L321.75,24.49 L321.67,24.52 L321.59,24.55 L321.50,24.59 L321.42,24.63 L321.34,24.66 L321.02,24.71 L319.62,25.17 L318.88,25.81 L318.76,26.00 L318.65,26.19 L318.54,26.39 L318.44,26.59 L318.34,26.80 L318.25,27.00 L318.17,27.22 L318.09,27.44 L318.01,27.66 L317.94,27.89 L317.87,28.12 L317.80,28.36 L317.74,28.61 L317.68,28.86 L317.63,29.12 L317.57,29.39 L317.52,29.67 L317.47,29.95 L317.42,30.25 L317.37,30.55 L317.33,30.87 L317.28,31.19 L317.24,31.53 L317.20,31.89 L317.15,32.25 L317.11,32.64 L317.07,33.03 L317.03,33.45 L316.99,33.88 L316.94,34.34 L316.90,34.81 L316.86,35.30 L316.82,35.82 L316.78,36.36 L316.73,36.92 L316.69,37.51 L316.64,38.12 L316.60,38.77 L316.55,39.45 L316.51,40.15 L316.46,40.89 L316.41,41.67 L316.36,42.48 L316.31,43.33 L316.26,44.22 L316.20,45.15 L316.15,46.13 L316.09,47.15 L316.04,48.23 L315.98,49.35 L315.92,50.52 L315.86,51.76 L315.79,53.05 L315.73,54.40 L315.66,55.81 L315.59,57.30 L315.52,58.85 L315.45,60.48 L315.38,62.18 L315.30,63.97 L315.22,65.84 L315.14,67.80 L315.06,69.85 L314.98,72.00 L314.89,74.25 L314.81,76.61 L314.73,79.08 L314.65,81.67 L314.56,84.37 L314.48,87.21 L314.40,90.18 L314.31,93.29 L314.23,96.55 L314.15,99.96 L314.06,103.53 L313.98,107.27 L313.90,111.19 L313.82,115.29 L313.73,119.59 L313.65,124.08 L313.57,128.79 L313.48,133.72 Z" fill="#000"/>
<path d="M314.8,149 L315.0,80" stroke="#000" stroke-width="2.8"/>
<path d="M310.3,149.0 H314" stroke="#000" stroke-width="2"/>
<text x="309.6" y="152.3" font-size="9.1" text-anchor="end">0</text>
<path d="M310.3,118.5 H314" stroke="#000" stroke-width="2"/>
<text x="309.6" y="121.8" font-size="9.1" text-anchor="end">25</text>
<path d="M310.3,88.0 H314" stroke="#000" stroke-width="2"/>
<text x="309.6" y="91.3" font-size="9.1" text-anchor="end">50</text>
<path d="M310.3,57.5 H314" stroke="#000" stroke-width="2"/>
<text x="309.6" y="60.8" font-size="9.1" text-anchor="end">75</text>
<path d="M310.3,27.0 H314" stroke="#000" stroke-width="2"/>
<text x="309.6" y="30.3" font-size="9.1" text-anchor="end">100</text>
<path d="M314.2,149 V152.5" stroke="#000" stroke-width="2"/>
<text x="314.2" y="161.8" font-size="10.3" text-anchor="middle">0</text>
<path d="M355.7,149 V152.5" stroke="#000" stroke-width="2"/>
<text x="355.7" y="161.8" font-size="10.3" text-anchor="middle">50</text>
<path d="M397.2,149 V152.5" stroke="#000" stroke-width="2"/>
<text x="397.2" y="161.8" font-size="10.3" text-anchor="middle">100</text>
<path d="M438.7,149 V152.5" stroke="#000" stroke-width="2"/>
<text x="438.7" y="161.8" font-size="10.3" text-anchor="middle">150</text>
<path d="M480.2,149 V152.5" stroke="#000" stroke-width="2"/>
<text x="480.2" y="161.8" font-size="10.3" text-anchor="middle">200</text>
<text x="414.8" y="181.8" font-size="10.3" text-anchor="middle">Time (min)</text>
<text transform="translate(285,79.7) rotate(-90)" font-size="10" text-anchor="middle">Turbidity (%)</text>
<path d="M45.5,215 V350.5 M44.5,349.5 H247.3" stroke="#000" stroke-width="2.3" fill="none"/>
<path d="M41.6,349.8 H45.5" stroke="#000" stroke-width="2.2"/>
<text x="41.2" y="353.4" font-size="10.6" text-anchor="end">0</text>
<path d="M41.6,305.2 H45.5" stroke="#000" stroke-width="2.2"/>
<text x="41.2" y="308.9" font-size="10.6" text-anchor="end">50</text>
<path d="M41.6,260.8 H45.5" stroke="#000" stroke-width="2.2"/>
<text x="41.2" y="264.4" font-size="10.6" text-anchor="end">100</text>
<path d="M41.6,216.2 H45.5" stroke="#000" stroke-width="2.2"/>
<text x="41.2" y="219.8" font-size="10.6" text-anchor="end">150</text>
<path d="M57.4,349.5 V353.5" stroke="#000" stroke-width="2.2"/>
<text x="57.6" y="364.3" font-size="10.3" text-anchor="middle">0</text>
<path d="M92.3,349.5 V353.5" stroke="#000" stroke-width="2.2"/>
<text x="92.6" y="364.3" font-size="10.3" text-anchor="middle">0.05</text>
<path d="M159.7,349.5 V353.5" stroke="#000" stroke-width="2.2"/>
<text x="159.29999999999998" y="364.3" font-size="10.3" text-anchor="middle">0.5</text>
<path d="M226.2,349.5 V353.5" stroke="#000" stroke-width="2.2"/>
<text x="226.39999999999998" y="364.3" font-size="10.3" text-anchor="middle">5</text>
<path d="M83.8,345.4 V353.8 M88.9,345.4 V353.8" stroke="#000" stroke-width="2"/>
<path d="M57.4,307.5 L83.8,308.1 L88.9,308.6 L100.3,309.7 L147.1,291 L165.7,274.5 L213.2,217.1" stroke="#000" stroke-width="2.8" fill="none" stroke-linejoin="round"/>
<path d="M83.8,304.2 V312 M88.9,304.4 V312.4" stroke="#000" stroke-width="2.2"/>
<path d="M57.4,303.4 V311.2 M53.199999999999996,303.4 H61.6 M53.199999999999996,311.2 H61.6" stroke="#000" stroke-width="1.8"/>
<path d="M100.3,305.3 V314.1 M96.1,305.3 H104.5 M96.1,314.1 H104.5" stroke="#000" stroke-width="1.8"/>
<path d="M147.1,285.6 V296.2 M142.9,285.6 H151.29999999999998 M142.9,296.2 H151.29999999999998" stroke="#000" stroke-width="1.8"/>
<circle cx="57.4" cy="307.5" r="4.0" fill="#000"/>
<circle cx="100.3" cy="309.7" r="4.0" fill="#000"/>
<circle cx="147.1" cy="291" r="4.0" fill="#000"/>
<circle cx="165.7" cy="274.5" r="4.0" fill="#000"/>
<circle cx="213.2" cy="217.1" r="4.0" fill="#000"/>
<text x="145.6" y="380.3" font-size="10.2" text-anchor="middle">polyP (mM)</text>
<text transform="translate(15.6,305.6) rotate(-90)" font-size="11.8">t<tspan font-size="9" dy="2.4">1/2</tspan><tspan dy="-2.4"> (min)</tspan></text>
<path d="M314.7,212.6 V349.5 M313.7,348.6 H518.5" stroke="#000" stroke-width="2.3" fill="none"/>
<path d="M310.8,349.5 H315" stroke="#000" stroke-width="2.2"/>
<text x="310.2" y="353.1" font-size="10.6" text-anchor="end">0</text>
<path d="M310.8,304.5 H315" stroke="#000" stroke-width="2.2"/>
<text x="310.2" y="308.1" font-size="10.6" text-anchor="end">40</text>
<path d="M310.8,259.5 H315" stroke="#000" stroke-width="2.2"/>
<text x="310.2" y="263.1" font-size="10.6" text-anchor="end">80</text>
<path d="M310.8,214.5 H315" stroke="#000" stroke-width="2.2"/>
<text x="310.2" y="218.1" font-size="10.6" text-anchor="end">120</text>
<path d="M331.8,285.9 V280.7 M325.6,280.7 H337.9" stroke="#000" stroke-width="1.9"/>
<rect x="320.6" y="286.9" width="22.3" height="61.7" fill="#fff" stroke="#000" stroke-width="2"/>
<path d="M331.8,348.6 V352.6" stroke="#000" stroke-width="2"/>
<text transform="translate(334.8,362.5) rotate(-45)" font-size="10.6" text-anchor="end">0</text>
<path d="M365.6,286.8 V282.6 M359.4,282.6 H371.8" stroke="#000" stroke-width="1.9"/>
<rect x="354.5" y="287.8" width="22.3" height="60.8" fill="url(#pDot1)" stroke="#000" stroke-width="2"/>
<path d="M365.6,348.6 V352.6" stroke="#000" stroke-width="2"/>
<text transform="translate(368.6,362.5) rotate(-45)" font-size="10.6" text-anchor="end">1</text>
<path d="M399.6,285.2 V281.9 M393.4,281.9 H405.8" stroke="#000" stroke-width="1.9"/>
<rect x="388.6" y="286.2" width="22.0" height="62.4" fill="url(#pDot5)" stroke="#000" stroke-width="2"/>
<path d="M399.6,348.6 V352.6" stroke="#000" stroke-width="2"/>
<text transform="translate(402.6,362.5) rotate(-45)" font-size="10.6" text-anchor="end">5</text>
<path d="M433.5,278.2 V275.7 M427.3,275.7 H439.7" stroke="#000" stroke-width="1.9"/>
<rect x="422.5" y="279.2" width="22.0" height="69.4" fill="url(#pH)" stroke="#000" stroke-width="2"/>
<path d="M433.5,348.6 V352.6" stroke="#000" stroke-width="2"/>
<text transform="translate(436.5,362.5) rotate(-45)" font-size="10.6" text-anchor="end">25</text>
<path d="M467.6,253.7 V249.2 M461.4,249.2 H473.8" stroke="#000" stroke-width="1.9"/>
<rect x="456.4" y="254.7" width="22.5" height="93.9" fill="url(#pD)" stroke="#000" stroke-width="2"/>
<path d="M467.6,348.6 V352.6" stroke="#000" stroke-width="2"/>
<text transform="translate(470.6,362.5) rotate(-45)" font-size="10.6" text-anchor="end">45</text>
<path d="M501.6,226.8 V224.4 M495.4,224.4 H507.8" stroke="#000" stroke-width="1.9"/>
<rect x="490.0" y="227.8" width="23.1" height="120.8" fill="#000" stroke="#000" stroke-width="2"/>
<path d="M501.6,348.6 V352.6" stroke="#000" stroke-width="2"/>
<text transform="translate(504.6,362.5) rotate(-45)" font-size="10.6" text-anchor="end">65</text>
<polygon points="431.30,263.10 432.12,264.47 433.68,264.83 432.63,266.03 432.77,267.62 431.30,267.00 429.83,267.62 429.97,266.03 428.92,264.83 430.48,264.47" fill="#000"/>
<polygon points="436.50,263.10 437.32,264.47 438.88,264.83 437.83,266.03 437.97,267.62 436.50,267.00 435.03,267.62 435.17,266.03 434.12,264.83 435.68,264.47" fill="#000"/>
<polygon points="462.30,235.80 463.12,237.17 464.68,237.53 463.63,238.73 463.77,240.32 462.30,239.70 460.83,240.32 460.97,238.73 459.92,237.53 461.48,237.17" fill="#000"/>
<polygon points="467.40,235.80 468.22,237.17 469.78,237.53 468.73,238.73 468.87,240.32 467.40,239.70 465.93,240.32 466.07,238.73 465.02,237.53 466.58,237.17" fill="#000"/>
<polygon points="472.50,235.80 473.32,237.17 474.88,237.53 473.83,238.73 473.97,240.32 472.50,239.70 471.03,240.32 471.17,238.73 470.12,237.53 471.68,237.17" fill="#000"/>
<polygon points="497.20,210.80 498.02,212.17 499.58,212.53 498.53,213.73 498.67,215.32 497.20,214.70 495.73,215.32 495.87,213.73 494.82,212.53 496.38,212.17" fill="#000"/>
<polygon points="502.30,210.80 503.12,212.17 504.68,212.53 503.63,213.73 503.77,215.32 502.30,214.70 500.83,215.32 500.97,213.73 499.92,212.53 501.48,212.17" fill="#000"/>
<polygon points="507.40,210.80 508.22,212.17 509.78,212.53 508.73,213.73 508.87,215.32 507.40,214.70 505.93,215.32 506.07,213.73 505.02,212.53 506.58,212.17" fill="#000"/>
<text x="411.7" y="383.8" font-size="10.6" text-anchor="middle">Phosphates per polymer</text>
<text transform="translate(284.2,304.6) rotate(-90)" font-size="11.8">t<tspan font-size="9" dy="2.4">1/2</tspan><tspan dy="-2.4"> (min)</tspan></text>
</svg></body></html>
